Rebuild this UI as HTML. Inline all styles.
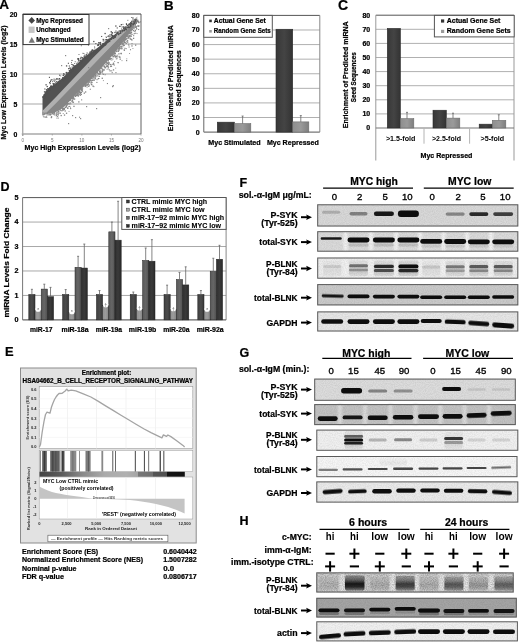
<!DOCTYPE html>
<html><head><meta charset="utf-8"><title>Figure</title>
<style>
html,body{margin:0;padding:0;background:#fff;}
body{width:520px;height:642px;overflow:hidden;}
svg{display:block;font-family:"Liberation Sans",sans-serif;filter:blur(0.3px);}
</style></head><body>
<svg width="520" height="642" viewBox="0 0 520 642">
<defs>
<linearGradient id="gdark" x1="0" x2="1" y1="0" y2="0"><stop offset="0" stop-color="#383838"/><stop offset="0.5" stop-color="#444"/><stop offset="1" stop-color="#333"/></linearGradient>
<linearGradient id="glight" x1="0" x2="1" y1="0" y2="0"><stop offset="0" stop-color="#8e8e8e"/><stop offset="0.5" stop-color="#9a9a9a"/><stop offset="1" stop-color="#7e7e7e"/></linearGradient>
<linearGradient id="gd1" x1="0" x2="1"><stop offset="0" stop-color="#404040"/><stop offset="0.5" stop-color="#4c4c4c"/><stop offset="1" stop-color="#383838"/></linearGradient>
<linearGradient id="gd2" x1="0" x2="1"><stop offset="0" stop-color="#909090"/><stop offset="0.5" stop-color="#9c9c9c"/><stop offset="1" stop-color="#848484"/></linearGradient>
<linearGradient id="gd3" x1="0" x2="1"><stop offset="0" stop-color="#585858"/><stop offset="0.5" stop-color="#666"/><stop offset="1" stop-color="#505050"/></linearGradient>
<linearGradient id="gd4" x1="0" x2="1"><stop offset="0" stop-color="#303030"/><stop offset="0.5" stop-color="#3a3a3a"/><stop offset="1" stop-color="#2a2a2a"/></linearGradient>
<linearGradient id="gbar" x1="0" x2="1"><stop offset="0" stop-color="#444"/><stop offset="0.15" stop-color="#5a5a5a"/><stop offset="0.3" stop-color="#8a8a8a"/><stop offset="0.45" stop-color="#aaa"/><stop offset="0.6" stop-color="#b0b0b0"/><stop offset="0.68" stop-color="#a4a4a4"/><stop offset="0.681" stop-color="#777"/><stop offset="0.78" stop-color="#707070"/><stop offset="0.781" stop-color="#555"/><stop offset="0.88" stop-color="#505050"/><stop offset="0.881" stop-color="#151515"/><stop offset="1" stop-color="#111"/></linearGradient>
<linearGradient id="gsmear" x1="0" x2="0" y1="0" y2="1"><stop offset="0" stop-color="#111" stop-opacity="0.35"/><stop offset="0.3" stop-color="#111" stop-opacity="0.6"/><stop offset="0.55" stop-color="#111" stop-opacity="1"/><stop offset="0.75" stop-color="#111" stop-opacity="0.9"/><stop offset="1" stop-color="#111" stop-opacity="0.45"/></linearGradient>
<filter id="blur1" x="-20%" y="-100%" width="140%" height="300%"><feGaussianBlur stdDeviation="0.7"/></filter>
<filter id="blur2" x="-30%" y="-30%" width="160%" height="160%"><feGaussianBlur stdDeviation="1.2"/></filter>
<filter id="noise" x="0" y="0" width="100%" height="100%"><feTurbulence type="fractalNoise" baseFrequency="0.9" numOctaves="2" seed="3" result="n"/><feColorMatrix in="n" type="matrix" values="0 0 0 0 0  0 0 0 0 0  0 0 0 0 0  0 0 0 -1.6 1.1"/><feComposite in2="SourceGraphic" operator="in"/></filter>
</defs>
<rect width="520" height="642" fill="#fff"/>
<text x="-0.70" y="9.40" font-size="13.6" font-weight="bold" fill="#000" stroke="#000" stroke-width="0.22">A</text>
<text x="164.00" y="9.50" font-size="13.3" font-weight="bold" fill="#000" stroke="#000" stroke-width="0.22">B</text>
<text x="338.00" y="10.10" font-size="14" font-weight="bold" fill="#000" stroke="#000" stroke-width="0.22">C</text>
<text x="0.40" y="191.20" font-size="12.5" font-weight="bold" fill="#000" stroke="#000" stroke-width="0.22">D</text>
<text x="5.00" y="356.30" font-size="12.9" font-weight="bold" fill="#000" stroke="#000" stroke-width="0.22">E</text>
<text x="239.60" y="187.20" font-size="12.5" font-weight="bold" fill="#000" stroke="#000" stroke-width="0.22">F</text>
<text x="239.40" y="356.60" font-size="12.5" font-weight="bold" fill="#000" stroke="#000" stroke-width="0.22">G</text>
<text x="239.40" y="525.20" font-size="12.5" font-weight="bold" fill="#000" stroke="#000" stroke-width="0.22">H</text>
<line x1="22.75" y1="104.00" x2="141.00" y2="104.00" stroke="#a8a8a8" stroke-width="1.1"/>
<line x1="22.75" y1="74.00" x2="141.00" y2="74.00" stroke="#a8a8a8" stroke-width="1.1"/>
<line x1="22.75" y1="44.00" x2="141.00" y2="44.00" stroke="#a8a8a8" stroke-width="1.1"/>
<line x1="22.75" y1="14.00" x2="22.75" y2="136.00" stroke="#a0a0a0" stroke-width="1.2"/>
<line x1="21.75" y1="134.00" x2="141.00" y2="134.00" stroke="#a8a8a8" stroke-width="1.4"/>
<line x1="141.00" y1="14.00" x2="141.00" y2="134.00" stroke="#606060" stroke-width="1"/>
<line x1="22.75" y1="14.00" x2="141.00" y2="14.00" stroke="#404040" stroke-width="1"/>
<text x="17.30" y="136.80" font-size="6.9" font-weight="bold" fill="#000" text-anchor="end" stroke="#000" stroke-width="0.22">0</text>
<text x="22.75" y="141.50" font-size="4.6" font-weight="normal" fill="#777" text-anchor="middle">0</text>
<line x1="22.75" y1="134.00" x2="22.75" y2="135.50" stroke="#999" stroke-width="0.8"/>
<text x="17.30" y="106.80" font-size="6.9" font-weight="bold" fill="#000" text-anchor="end" stroke="#000" stroke-width="0.22">5</text>
<text x="52.31" y="141.50" font-size="4.6" font-weight="normal" fill="#777" text-anchor="middle">5</text>
<line x1="52.31" y1="134.00" x2="52.31" y2="135.50" stroke="#999" stroke-width="0.8"/>
<text x="17.30" y="76.80" font-size="6.9" font-weight="bold" fill="#000" text-anchor="end" stroke="#000" stroke-width="0.22">10</text>
<text x="81.88" y="141.50" font-size="4.6" font-weight="normal" fill="#777" text-anchor="middle">10</text>
<line x1="81.88" y1="134.00" x2="81.88" y2="135.50" stroke="#999" stroke-width="0.8"/>
<text x="17.30" y="46.80" font-size="6.9" font-weight="bold" fill="#000" text-anchor="end" stroke="#000" stroke-width="0.22">15</text>
<text x="111.45" y="141.50" font-size="4.6" font-weight="normal" fill="#777" text-anchor="middle">15</text>
<line x1="111.45" y1="134.00" x2="111.45" y2="135.50" stroke="#999" stroke-width="0.8"/>
<text x="17.30" y="16.80" font-size="6.9" font-weight="bold" fill="#000" text-anchor="end" stroke="#000" stroke-width="0.22">20</text>
<text x="141.01" y="141.50" font-size="4.6" font-weight="normal" fill="#777" text-anchor="middle">20</text>
<line x1="141.01" y1="134.00" x2="141.01" y2="135.50" stroke="#999" stroke-width="0.8"/>
<path d="M42.5,97.0 L45.0,92.5 L48.0,88.5 L55.0,84.0 L63.0,77.5 L67.0,74.0 L71.0,69.0 L77.4,63.5 L83.6,58.0 L89.8,53.0 L96.0,49.0 L104.0,42.8 L112.0,36.5 L120.0,30.8 L126.0,27.0 L132.0,22.8 L137.3,19.2 L137.3,19.0 L42.5,115.2 Z" fill="#525252"/>
<path d="M137.3,19.2 L135.5,23.6 L132.5,29.1 L127.0,36.7 L121.0,44.8 L114.0,53.4 L107.0,61.5 L101.0,68.6 L95.5,74.7 L90.0,80.4 L83.4,87.1 L77.0,93.6 L71.0,99.8 L66.0,105.1 L60.0,110.2 L52.0,113.5 L47.0,113.5 L42.5,112.5 L42.5,115.2 L137.3,19.0 Z" fill="#858585"/>
<path d="M42.5,110.8 L56.0,97.1 L94.0,56.8 L120.0,31.1 L137.3,16.6 L137.3,19.4 L120.0,36.9 L94.0,63.9 L56.0,103.3 L42.5,116.4 Z" fill="#b0b0b0"/>
<rect x="44.39" y="96.15" width="1.30" height="1.30" fill="#525252"/>
<rect x="42.45" y="96.42" width="1.30" height="1.30" fill="#525252"/>
<rect x="44.26" y="96.71" width="1.10" height="1.10" fill="#525252"/>
<rect x="43.89" y="97.36" width="1.10" height="1.10" fill="#525252"/>
<rect x="42.44" y="96.62" width="0.90" height="0.90" fill="#525252"/>
<rect x="43.79" y="94.00" width="0.90" height="0.90" fill="#525252"/>
<rect x="44.37" y="94.64" width="0.90" height="0.90" fill="#525252"/>
<rect x="44.32" y="96.31" width="0.90" height="0.90" fill="#525252"/>
<rect x="43.75" y="94.33" width="1.30" height="1.30" fill="#525252"/>
<rect x="42.67" y="96.03" width="1.30" height="1.30" fill="#525252"/>
<rect x="44.17" y="96.82" width="1.30" height="1.30" fill="#525252"/>
<rect x="43.94" y="97.43" width="0.90" height="0.90" fill="#525252"/>
<rect x="43.68" y="94.73" width="1.10" height="1.10" fill="#525252"/>
<rect x="44.25" y="95.84" width="0.90" height="0.90" fill="#525252"/>
<rect x="45.11" y="94.33" width="1.30" height="1.30" fill="#525252"/>
<rect x="43.33" y="95.70" width="1.10" height="1.10" fill="#525252"/>
<rect x="45.07" y="94.13" width="0.90" height="0.90" fill="#525252"/>
<rect x="43.15" y="96.67" width="1.10" height="1.10" fill="#525252"/>
<rect x="42.99" y="96.38" width="0.90" height="0.90" fill="#525252"/>
<rect x="46.15" y="93.36" width="1.30" height="1.30" fill="#525252"/>
<rect x="44.33" y="88.42" width="1.10" height="1.10" fill="#525252"/>
<rect x="46.54" y="91.53" width="1.10" height="1.10" fill="#525252"/>
<rect x="46.95" y="90.34" width="0.90" height="0.90" fill="#525252"/>
<rect x="47.98" y="88.83" width="1.30" height="1.30" fill="#525252"/>
<rect x="44.16" y="91.47" width="1.10" height="1.10" fill="#525252"/>
<rect x="48.16" y="89.73" width="1.10" height="1.10" fill="#525252"/>
<rect x="48.19" y="89.35" width="1.10" height="1.10" fill="#525252"/>
<rect x="45.69" y="90.79" width="1.10" height="1.10" fill="#525252"/>
<rect x="43.88" y="91.29" width="0.90" height="0.90" fill="#525252"/>
<rect x="47.60" y="89.84" width="1.10" height="1.10" fill="#525252"/>
<rect x="45.47" y="92.35" width="1.30" height="1.30" fill="#525252"/>
<rect x="46.85" y="92.15" width="1.10" height="1.10" fill="#525252"/>
<rect x="48.30" y="89.57" width="1.10" height="1.10" fill="#525252"/>
<rect x="47.22" y="88.00" width="1.10" height="1.10" fill="#525252"/>
<rect x="48.87" y="89.41" width="0.90" height="0.90" fill="#525252"/>
<rect x="44.84" y="91.44" width="0.90" height="0.90" fill="#525252"/>
<rect x="46.17" y="90.35" width="1.10" height="1.10" fill="#525252"/>
<rect x="46.85" y="92.12" width="1.30" height="1.30" fill="#525252"/>
<rect x="45.92" y="90.88" width="0.90" height="0.90" fill="#525252"/>
<rect x="47.08" y="89.74" width="1.30" height="1.30" fill="#525252"/>
<rect x="45.88" y="89.06" width="1.10" height="1.10" fill="#525252"/>
<rect x="53.36" y="83.00" width="1.30" height="1.30" fill="#525252"/>
<rect x="53.86" y="85.33" width="1.10" height="1.10" fill="#525252"/>
<rect x="50.84" y="86.86" width="1.10" height="1.10" fill="#525252"/>
<rect x="49.22" y="89.44" width="0.90" height="0.90" fill="#525252"/>
<rect x="51.81" y="87.65" width="1.30" height="1.30" fill="#525252"/>
<rect x="49.23" y="89.61" width="0.90" height="0.90" fill="#525252"/>
<rect x="49.08" y="81.93" width="1.30" height="1.30" fill="#525252"/>
<rect x="46.58" y="85.89" width="1.30" height="1.30" fill="#525252"/>
<rect x="50.30" y="86.29" width="1.10" height="1.10" fill="#525252"/>
<rect x="52.32" y="85.95" width="0.90" height="0.90" fill="#525252"/>
<rect x="48.89" y="76.82" width="1.10" height="1.10" fill="#525252"/>
<rect x="51.78" y="86.99" width="0.90" height="0.90" fill="#525252"/>
<rect x="49.08" y="88.61" width="1.10" height="1.10" fill="#525252"/>
<rect x="50.81" y="85.51" width="1.30" height="1.30" fill="#525252"/>
<rect x="45.44" y="84.16" width="1.30" height="1.30" fill="#525252"/>
<rect x="50.00" y="86.05" width="0.90" height="0.90" fill="#525252"/>
<rect x="53.75" y="85.78" width="1.30" height="1.30" fill="#525252"/>
<rect x="53.49" y="83.76" width="1.10" height="1.10" fill="#525252"/>
<rect x="49.65" y="83.09" width="1.10" height="1.10" fill="#525252"/>
<rect x="53.36" y="84.96" width="1.30" height="1.30" fill="#525252"/>
<rect x="50.87" y="87.90" width="0.90" height="0.90" fill="#525252"/>
<rect x="52.48" y="83.06" width="1.30" height="1.30" fill="#525252"/>
<rect x="54.22" y="85.82" width="1.10" height="1.10" fill="#525252"/>
<rect x="51.32" y="88.19" width="0.90" height="0.90" fill="#525252"/>
<rect x="53.64" y="85.11" width="0.90" height="0.90" fill="#525252"/>
<rect x="49.98" y="80.93" width="1.10" height="1.10" fill="#525252"/>
<rect x="53.00" y="83.83" width="1.10" height="1.10" fill="#525252"/>
<rect x="55.01" y="84.71" width="0.90" height="0.90" fill="#525252"/>
<rect x="48.82" y="88.21" width="1.10" height="1.10" fill="#525252"/>
<rect x="49.13" y="87.12" width="1.30" height="1.30" fill="#525252"/>
<rect x="53.97" y="84.86" width="1.30" height="1.30" fill="#525252"/>
<rect x="50.05" y="86.39" width="1.30" height="1.30" fill="#525252"/>
<rect x="49.12" y="88.40" width="1.30" height="1.30" fill="#525252"/>
<rect x="53.34" y="85.27" width="0.90" height="0.90" fill="#525252"/>
<rect x="50.70" y="86.02" width="0.90" height="0.90" fill="#525252"/>
<rect x="50.23" y="79.65" width="1.10" height="1.10" fill="#525252"/>
<rect x="50.49" y="85.24" width="0.90" height="0.90" fill="#525252"/>
<rect x="61.55" y="80.21" width="0.90" height="0.90" fill="#525252"/>
<rect x="54.99" y="83.54" width="1.10" height="1.10" fill="#525252"/>
<rect x="62.24" y="79.73" width="1.30" height="1.30" fill="#525252"/>
<rect x="62.37" y="77.04" width="1.10" height="1.10" fill="#525252"/>
<rect x="56.15" y="82.87" width="0.90" height="0.90" fill="#525252"/>
<rect x="51.22" y="79.11" width="1.30" height="1.30" fill="#525252"/>
<rect x="54.91" y="82.21" width="0.90" height="0.90" fill="#525252"/>
<rect x="56.63" y="78.92" width="0.90" height="0.90" fill="#525252"/>
<rect x="55.90" y="84.65" width="1.30" height="1.30" fill="#525252"/>
<rect x="56.71" y="82.17" width="1.10" height="1.10" fill="#525252"/>
<rect x="57.87" y="78.64" width="0.90" height="0.90" fill="#525252"/>
<rect x="62.68" y="78.58" width="1.10" height="1.10" fill="#525252"/>
<rect x="58.97" y="78.05" width="1.30" height="1.30" fill="#525252"/>
<rect x="55.91" y="78.24" width="1.30" height="1.30" fill="#525252"/>
<rect x="56.83" y="84.11" width="1.30" height="1.30" fill="#525252"/>
<rect x="55.35" y="84.13" width="0.90" height="0.90" fill="#525252"/>
<rect x="58.80" y="78.73" width="0.90" height="0.90" fill="#525252"/>
<rect x="56.50" y="83.03" width="1.30" height="1.30" fill="#525252"/>
<rect x="56.88" y="84.35" width="1.30" height="1.30" fill="#525252"/>
<rect x="59.03" y="80.49" width="0.90" height="0.90" fill="#525252"/>
<rect x="62.99" y="79.40" width="0.90" height="0.90" fill="#525252"/>
<rect x="56.17" y="80.92" width="1.30" height="1.30" fill="#525252"/>
<rect x="59.59" y="82.25" width="0.90" height="0.90" fill="#525252"/>
<rect x="58.24" y="80.74" width="1.30" height="1.30" fill="#525252"/>
<rect x="60.55" y="80.92" width="1.10" height="1.10" fill="#525252"/>
<rect x="58.57" y="81.00" width="1.10" height="1.10" fill="#525252"/>
<rect x="59.68" y="81.46" width="1.30" height="1.30" fill="#525252"/>
<rect x="59.07" y="74.68" width="1.10" height="1.10" fill="#525252"/>
<rect x="60.29" y="75.43" width="0.90" height="0.90" fill="#525252"/>
<rect x="62.52" y="79.53" width="0.90" height="0.90" fill="#525252"/>
<rect x="58.62" y="82.04" width="1.30" height="1.30" fill="#525252"/>
<rect x="57.83" y="83.55" width="1.30" height="1.30" fill="#525252"/>
<rect x="58.25" y="83.05" width="0.90" height="0.90" fill="#525252"/>
<rect x="62.09" y="77.37" width="1.10" height="1.10" fill="#525252"/>
<rect x="54.18" y="80.65" width="1.10" height="1.10" fill="#525252"/>
<rect x="53.54" y="78.61" width="1.10" height="1.10" fill="#525252"/>
<rect x="62.84" y="79.19" width="1.30" height="1.30" fill="#525252"/>
<rect x="62.42" y="79.53" width="1.10" height="1.10" fill="#525252"/>
<rect x="63.24" y="77.90" width="1.10" height="1.10" fill="#525252"/>
<rect x="57.04" y="83.31" width="1.30" height="1.30" fill="#525252"/>
<rect x="58.36" y="82.16" width="1.10" height="1.10" fill="#525252"/>
<rect x="59.51" y="82.35" width="1.10" height="1.10" fill="#525252"/>
<rect x="59.66" y="81.28" width="0.90" height="0.90" fill="#525252"/>
<rect x="53.43" y="80.23" width="0.90" height="0.90" fill="#525252"/>
<rect x="63.63" y="78.74" width="1.10" height="1.10" fill="#525252"/>
<rect x="54.91" y="79.44" width="0.90" height="0.90" fill="#525252"/>
<rect x="64.93" y="77.53" width="1.10" height="1.10" fill="#525252"/>
<rect x="65.82" y="73.86" width="1.10" height="1.10" fill="#525252"/>
<rect x="64.56" y="76.01" width="1.30" height="1.30" fill="#525252"/>
<rect x="64.59" y="74.71" width="0.90" height="0.90" fill="#525252"/>
<rect x="62.84" y="75.07" width="0.90" height="0.90" fill="#525252"/>
<rect x="65.65" y="77.09" width="0.90" height="0.90" fill="#525252"/>
<rect x="64.25" y="73.81" width="0.90" height="0.90" fill="#525252"/>
<rect x="66.12" y="76.16" width="1.10" height="1.10" fill="#525252"/>
<rect x="66.63" y="74.68" width="1.10" height="1.10" fill="#525252"/>
<rect x="67.25" y="74.33" width="1.10" height="1.10" fill="#525252"/>
<rect x="66.48" y="76.46" width="1.30" height="1.30" fill="#525252"/>
<rect x="64.84" y="77.68" width="0.90" height="0.90" fill="#525252"/>
<rect x="64.81" y="77.46" width="1.10" height="1.10" fill="#525252"/>
<rect x="65.47" y="75.25" width="0.90" height="0.90" fill="#525252"/>
<rect x="64.21" y="76.54" width="0.90" height="0.90" fill="#525252"/>
<rect x="62.78" y="75.06" width="1.10" height="1.10" fill="#525252"/>
<rect x="64.17" y="78.54" width="1.30" height="1.30" fill="#525252"/>
<rect x="65.95" y="76.43" width="1.10" height="1.10" fill="#525252"/>
<rect x="64.18" y="76.86" width="1.30" height="1.30" fill="#525252"/>
<rect x="66.51" y="74.90" width="1.10" height="1.10" fill="#525252"/>
<rect x="63.06" y="73.16" width="1.30" height="1.30" fill="#525252"/>
<rect x="64.93" y="77.23" width="0.90" height="0.90" fill="#525252"/>
<rect x="62.84" y="74.55" width="1.30" height="1.30" fill="#525252"/>
<rect x="70.91" y="71.15" width="1.10" height="1.10" fill="#525252"/>
<rect x="69.06" y="67.60" width="0.90" height="0.90" fill="#525252"/>
<rect x="66.21" y="72.79" width="1.10" height="1.10" fill="#525252"/>
<rect x="69.87" y="72.77" width="1.30" height="1.30" fill="#525252"/>
<rect x="68.10" y="67.98" width="1.30" height="1.30" fill="#525252"/>
<rect x="70.56" y="68.89" width="1.30" height="1.30" fill="#525252"/>
<rect x="68.36" y="72.69" width="0.90" height="0.90" fill="#525252"/>
<rect x="69.32" y="73.65" width="1.10" height="1.10" fill="#525252"/>
<rect x="65.92" y="65.25" width="1.30" height="1.30" fill="#525252"/>
<rect x="69.48" y="73.33" width="1.10" height="1.10" fill="#525252"/>
<rect x="68.77" y="73.63" width="1.10" height="1.10" fill="#525252"/>
<rect x="68.67" y="72.21" width="1.30" height="1.30" fill="#525252"/>
<rect x="70.38" y="71.33" width="0.90" height="0.90" fill="#525252"/>
<rect x="65.69" y="72.21" width="0.90" height="0.90" fill="#525252"/>
<rect x="69.77" y="72.94" width="0.90" height="0.90" fill="#525252"/>
<rect x="67.74" y="72.14" width="0.90" height="0.90" fill="#525252"/>
<rect x="69.30" y="71.04" width="0.90" height="0.90" fill="#525252"/>
<rect x="68.72" y="69.98" width="1.30" height="1.30" fill="#525252"/>
<rect x="69.13" y="72.51" width="1.10" height="1.10" fill="#525252"/>
<rect x="66.63" y="72.48" width="1.30" height="1.30" fill="#525252"/>
<rect x="65.84" y="71.88" width="1.30" height="1.30" fill="#525252"/>
<rect x="70.12" y="69.18" width="1.30" height="1.30" fill="#525252"/>
<rect x="69.84" y="70.53" width="1.30" height="1.30" fill="#525252"/>
<rect x="69.82" y="70.08" width="0.90" height="0.90" fill="#525252"/>
<rect x="70.05" y="69.66" width="1.30" height="1.30" fill="#525252"/>
<rect x="68.95" y="69.96" width="0.90" height="0.90" fill="#525252"/>
<rect x="68.52" y="74.52" width="1.30" height="1.30" fill="#525252"/>
<rect x="69.50" y="73.04" width="1.10" height="1.10" fill="#525252"/>
<rect x="74.20" y="65.49" width="1.30" height="1.30" fill="#525252"/>
<rect x="75.04" y="66.82" width="1.10" height="1.10" fill="#525252"/>
<rect x="69.77" y="67.53" width="1.30" height="1.30" fill="#525252"/>
<rect x="74.74" y="61.28" width="0.90" height="0.90" fill="#525252"/>
<rect x="76.16" y="66.47" width="1.30" height="1.30" fill="#525252"/>
<rect x="72.70" y="64.84" width="1.10" height="1.10" fill="#525252"/>
<rect x="71.52" y="66.57" width="0.90" height="0.90" fill="#525252"/>
<rect x="71.45" y="59.94" width="1.10" height="1.10" fill="#525252"/>
<rect x="77.34" y="65.43" width="1.30" height="1.30" fill="#525252"/>
<rect x="73.81" y="68.55" width="1.30" height="1.30" fill="#525252"/>
<rect x="76.04" y="66.54" width="0.90" height="0.90" fill="#525252"/>
<rect x="72.65" y="66.63" width="1.30" height="1.30" fill="#525252"/>
<rect x="72.79" y="67.14" width="0.90" height="0.90" fill="#525252"/>
<rect x="74.18" y="66.45" width="1.30" height="1.30" fill="#525252"/>
<rect x="72.33" y="69.26" width="1.10" height="1.10" fill="#525252"/>
<rect x="72.86" y="67.40" width="1.10" height="1.10" fill="#525252"/>
<rect x="72.93" y="65.22" width="1.30" height="1.30" fill="#525252"/>
<rect x="67.84" y="62.74" width="1.10" height="1.10" fill="#525252"/>
<rect x="71.27" y="69.09" width="1.30" height="1.30" fill="#525252"/>
<rect x="77.38" y="63.89" width="1.10" height="1.10" fill="#525252"/>
<rect x="70.96" y="63.94" width="0.90" height="0.90" fill="#525252"/>
<rect x="72.38" y="69.65" width="1.30" height="1.30" fill="#525252"/>
<rect x="71.02" y="62.24" width="0.90" height="0.90" fill="#525252"/>
<rect x="74.47" y="65.23" width="1.10" height="1.10" fill="#525252"/>
<rect x="75.98" y="63.31" width="0.90" height="0.90" fill="#525252"/>
<rect x="72.23" y="63.99" width="1.10" height="1.10" fill="#525252"/>
<rect x="72.20" y="70.07" width="1.10" height="1.10" fill="#525252"/>
<rect x="75.66" y="65.60" width="1.30" height="1.30" fill="#525252"/>
<rect x="72.34" y="68.74" width="1.10" height="1.10" fill="#525252"/>
<rect x="72.24" y="68.88" width="1.10" height="1.10" fill="#525252"/>
<rect x="74.23" y="63.04" width="0.90" height="0.90" fill="#525252"/>
<rect x="77.75" y="64.68" width="0.90" height="0.90" fill="#525252"/>
<rect x="77.32" y="64.68" width="1.10" height="1.10" fill="#525252"/>
<rect x="71.75" y="69.03" width="1.30" height="1.30" fill="#525252"/>
<rect x="68.81" y="65.46" width="1.10" height="1.10" fill="#525252"/>
<rect x="77.04" y="64.97" width="0.90" height="0.90" fill="#525252"/>
<rect x="76.90" y="65.06" width="0.90" height="0.90" fill="#525252"/>
<rect x="79.56" y="62.82" width="1.30" height="1.30" fill="#525252"/>
<rect x="78.25" y="60.52" width="1.10" height="1.10" fill="#525252"/>
<rect x="81.50" y="57.08" width="1.30" height="1.30" fill="#525252"/>
<rect x="77.90" y="59.06" width="1.30" height="1.30" fill="#525252"/>
<rect x="80.01" y="59.58" width="0.90" height="0.90" fill="#525252"/>
<rect x="83.48" y="58.69" width="1.30" height="1.30" fill="#525252"/>
<rect x="81.62" y="58.86" width="1.10" height="1.10" fill="#525252"/>
<rect x="77.93" y="58.03" width="1.30" height="1.30" fill="#525252"/>
<rect x="78.32" y="62.95" width="1.10" height="1.10" fill="#525252"/>
<rect x="79.78" y="62.66" width="1.30" height="1.30" fill="#525252"/>
<rect x="84.07" y="58.83" width="1.30" height="1.30" fill="#525252"/>
<rect x="78.98" y="62.30" width="1.30" height="1.30" fill="#525252"/>
<rect x="80.64" y="62.23" width="0.90" height="0.90" fill="#525252"/>
<rect x="77.91" y="63.14" width="1.10" height="1.10" fill="#525252"/>
<rect x="80.99" y="60.68" width="1.10" height="1.10" fill="#525252"/>
<rect x="83.77" y="58.23" width="0.90" height="0.90" fill="#525252"/>
<rect x="81.45" y="61.22" width="0.90" height="0.90" fill="#525252"/>
<rect x="80.44" y="62.66" width="0.90" height="0.90" fill="#525252"/>
<rect x="78.33" y="59.94" width="0.90" height="0.90" fill="#525252"/>
<rect x="81.94" y="57.54" width="1.10" height="1.10" fill="#525252"/>
<rect x="78.84" y="60.34" width="0.90" height="0.90" fill="#525252"/>
<rect x="80.20" y="61.94" width="0.90" height="0.90" fill="#525252"/>
<rect x="80.30" y="60.55" width="1.10" height="1.10" fill="#525252"/>
<rect x="78.22" y="62.85" width="1.30" height="1.30" fill="#525252"/>
<rect x="80.61" y="57.24" width="0.90" height="0.90" fill="#525252"/>
<rect x="79.73" y="62.74" width="1.10" height="1.10" fill="#525252"/>
<rect x="81.64" y="60.21" width="1.10" height="1.10" fill="#525252"/>
<rect x="80.71" y="56.63" width="0.90" height="0.90" fill="#525252"/>
<rect x="78.44" y="63.09" width="1.10" height="1.10" fill="#525252"/>
<rect x="83.48" y="58.26" width="0.90" height="0.90" fill="#525252"/>
<rect x="77.07" y="58.24" width="1.30" height="1.30" fill="#525252"/>
<rect x="78.53" y="54.09" width="0.90" height="0.90" fill="#525252"/>
<rect x="82.95" y="59.97" width="0.90" height="0.90" fill="#525252"/>
<rect x="80.03" y="59.94" width="1.30" height="1.30" fill="#525252"/>
<rect x="80.07" y="57.76" width="1.10" height="1.10" fill="#525252"/>
<rect x="76.80" y="61.76" width="0.90" height="0.90" fill="#525252"/>
<rect x="82.93" y="59.96" width="0.90" height="0.90" fill="#525252"/>
<rect x="88.11" y="55.40" width="0.90" height="0.90" fill="#525252"/>
<rect x="87.45" y="54.83" width="1.10" height="1.10" fill="#525252"/>
<rect x="88.77" y="55.55" width="0.90" height="0.90" fill="#525252"/>
<rect x="82.50" y="52.82" width="0.90" height="0.90" fill="#525252"/>
<rect x="86.66" y="56.87" width="1.30" height="1.30" fill="#525252"/>
<rect x="83.55" y="57.92" width="1.10" height="1.10" fill="#525252"/>
<rect x="85.81" y="57.20" width="0.90" height="0.90" fill="#525252"/>
<rect x="87.18" y="56.41" width="0.90" height="0.90" fill="#525252"/>
<rect x="84.05" y="58.19" width="1.30" height="1.30" fill="#525252"/>
<rect x="86.48" y="57.67" width="1.10" height="1.10" fill="#525252"/>
<rect x="88.65" y="53.04" width="0.90" height="0.90" fill="#525252"/>
<rect x="84.68" y="56.07" width="1.10" height="1.10" fill="#525252"/>
<rect x="85.96" y="58.05" width="1.10" height="1.10" fill="#525252"/>
<rect x="88.44" y="54.88" width="1.10" height="1.10" fill="#525252"/>
<rect x="83.63" y="55.52" width="1.30" height="1.30" fill="#525252"/>
<rect x="89.75" y="54.90" width="1.10" height="1.10" fill="#525252"/>
<rect x="90.10" y="53.76" width="0.90" height="0.90" fill="#525252"/>
<rect x="85.69" y="57.66" width="1.10" height="1.10" fill="#525252"/>
<rect x="83.93" y="57.03" width="1.30" height="1.30" fill="#525252"/>
<rect x="85.42" y="57.88" width="1.10" height="1.10" fill="#525252"/>
<rect x="90.17" y="54.59" width="1.30" height="1.30" fill="#525252"/>
<rect x="84.82" y="57.66" width="0.90" height="0.90" fill="#525252"/>
<rect x="83.50" y="57.57" width="1.10" height="1.10" fill="#525252"/>
<rect x="84.84" y="58.88" width="1.10" height="1.10" fill="#525252"/>
<rect x="85.67" y="54.87" width="1.10" height="1.10" fill="#525252"/>
<rect x="80.86" y="45.30" width="0.90" height="0.90" fill="#525252"/>
<rect x="86.36" y="57.25" width="1.30" height="1.30" fill="#525252"/>
<rect x="89.19" y="55.46" width="1.30" height="1.30" fill="#525252"/>
<rect x="86.58" y="52.49" width="1.10" height="1.10" fill="#525252"/>
<rect x="87.19" y="56.84" width="0.90" height="0.90" fill="#525252"/>
<rect x="85.74" y="57.10" width="0.90" height="0.90" fill="#525252"/>
<rect x="86.12" y="54.00" width="1.10" height="1.10" fill="#525252"/>
<rect x="84.44" y="54.51" width="1.10" height="1.10" fill="#525252"/>
<rect x="83.46" y="56.71" width="0.90" height="0.90" fill="#525252"/>
<rect x="83.44" y="53.07" width="0.90" height="0.90" fill="#525252"/>
<rect x="91.08" y="50.58" width="1.10" height="1.10" fill="#525252"/>
<rect x="90.22" y="53.25" width="1.30" height="1.30" fill="#525252"/>
<rect x="95.37" y="51.20" width="0.90" height="0.90" fill="#525252"/>
<rect x="91.60" y="49.48" width="0.90" height="0.90" fill="#525252"/>
<rect x="90.62" y="50.77" width="1.30" height="1.30" fill="#525252"/>
<rect x="92.39" y="52.40" width="1.30" height="1.30" fill="#525252"/>
<rect x="89.30" y="51.63" width="1.30" height="1.30" fill="#525252"/>
<rect x="92.25" y="52.48" width="0.90" height="0.90" fill="#525252"/>
<rect x="94.06" y="49.78" width="1.30" height="1.30" fill="#525252"/>
<rect x="96.46" y="50.43" width="0.90" height="0.90" fill="#525252"/>
<rect x="89.83" y="51.59" width="1.10" height="1.10" fill="#525252"/>
<rect x="96.00" y="49.63" width="1.10" height="1.10" fill="#525252"/>
<rect x="94.32" y="47.57" width="0.90" height="0.90" fill="#525252"/>
<rect x="96.18" y="50.26" width="1.30" height="1.30" fill="#525252"/>
<rect x="91.14" y="50.95" width="0.90" height="0.90" fill="#525252"/>
<rect x="93.96" y="51.18" width="1.10" height="1.10" fill="#525252"/>
<rect x="91.70" y="49.67" width="1.30" height="1.30" fill="#525252"/>
<rect x="90.90" y="53.62" width="0.90" height="0.90" fill="#525252"/>
<rect x="92.12" y="53.23" width="0.90" height="0.90" fill="#525252"/>
<rect x="92.72" y="50.96" width="0.90" height="0.90" fill="#525252"/>
<rect x="94.18" y="46.45" width="0.90" height="0.90" fill="#525252"/>
<rect x="92.20" y="53.12" width="0.90" height="0.90" fill="#525252"/>
<rect x="87.96" y="44.42" width="1.10" height="1.10" fill="#525252"/>
<rect x="91.57" y="53.39" width="1.10" height="1.10" fill="#525252"/>
<rect x="93.18" y="49.79" width="1.30" height="1.30" fill="#525252"/>
<rect x="92.23" y="49.44" width="0.90" height="0.90" fill="#525252"/>
<rect x="95.09" y="50.58" width="1.10" height="1.10" fill="#525252"/>
<rect x="93.63" y="51.21" width="1.30" height="1.30" fill="#525252"/>
<rect x="91.59" y="52.23" width="0.90" height="0.90" fill="#525252"/>
<rect x="91.99" y="53.06" width="1.30" height="1.30" fill="#525252"/>
<rect x="91.75" y="53.47" width="1.10" height="1.10" fill="#525252"/>
<rect x="95.98" y="49.07" width="0.90" height="0.90" fill="#525252"/>
<rect x="94.57" y="51.55" width="1.10" height="1.10" fill="#525252"/>
<rect x="104.76" y="43.93" width="1.10" height="1.10" fill="#525252"/>
<rect x="103.69" y="44.33" width="1.10" height="1.10" fill="#525252"/>
<rect x="104.24" y="44.52" width="1.10" height="1.10" fill="#525252"/>
<rect x="98.77" y="48.73" width="1.30" height="1.30" fill="#525252"/>
<rect x="103.58" y="42.71" width="0.90" height="0.90" fill="#525252"/>
<rect x="97.25" y="44.46" width="1.10" height="1.10" fill="#525252"/>
<rect x="99.79" y="43.93" width="1.30" height="1.30" fill="#525252"/>
<rect x="104.40" y="44.21" width="1.30" height="1.30" fill="#525252"/>
<rect x="102.08" y="45.12" width="0.90" height="0.90" fill="#525252"/>
<rect x="99.72" y="47.71" width="0.90" height="0.90" fill="#525252"/>
<rect x="104.93" y="44.00" width="1.30" height="1.30" fill="#525252"/>
<rect x="101.89" y="45.83" width="0.90" height="0.90" fill="#525252"/>
<rect x="102.82" y="44.27" width="1.10" height="1.10" fill="#525252"/>
<rect x="97.96" y="48.47" width="0.90" height="0.90" fill="#525252"/>
<rect x="96.31" y="48.88" width="1.10" height="1.10" fill="#525252"/>
<rect x="97.34" y="49.69" width="1.10" height="1.10" fill="#525252"/>
<rect x="102.07" y="45.86" width="1.30" height="1.30" fill="#525252"/>
<rect x="97.47" y="49.39" width="1.30" height="1.30" fill="#525252"/>
<rect x="93.16" y="40.86" width="1.30" height="1.30" fill="#525252"/>
<rect x="95.31" y="43.03" width="1.10" height="1.10" fill="#525252"/>
<rect x="100.04" y="41.90" width="1.10" height="1.10" fill="#525252"/>
<rect x="97.62" y="44.21" width="1.10" height="1.10" fill="#525252"/>
<rect x="101.47" y="45.41" width="1.10" height="1.10" fill="#525252"/>
<rect x="98.60" y="48.99" width="0.90" height="0.90" fill="#525252"/>
<rect x="98.06" y="44.65" width="1.10" height="1.10" fill="#525252"/>
<rect x="100.99" y="45.89" width="0.90" height="0.90" fill="#525252"/>
<rect x="97.95" y="49.37" width="0.90" height="0.90" fill="#525252"/>
<rect x="98.86" y="42.11" width="0.90" height="0.90" fill="#525252"/>
<rect x="98.03" y="42.16" width="1.30" height="1.30" fill="#525252"/>
<rect x="100.80" y="46.86" width="1.10" height="1.10" fill="#525252"/>
<rect x="98.02" y="48.93" width="0.90" height="0.90" fill="#525252"/>
<rect x="96.94" y="48.42" width="0.90" height="0.90" fill="#525252"/>
<rect x="96.95" y="45.24" width="0.90" height="0.90" fill="#525252"/>
<rect x="103.90" y="43.07" width="0.90" height="0.90" fill="#525252"/>
<rect x="100.48" y="44.74" width="0.90" height="0.90" fill="#525252"/>
<rect x="102.91" y="42.97" width="0.90" height="0.90" fill="#525252"/>
<rect x="99.49" y="42.92" width="1.30" height="1.30" fill="#525252"/>
<rect x="97.69" y="44.50" width="1.10" height="1.10" fill="#525252"/>
<rect x="98.11" y="48.70" width="1.10" height="1.10" fill="#525252"/>
<rect x="104.26" y="44.15" width="1.10" height="1.10" fill="#525252"/>
<rect x="97.58" y="49.01" width="1.30" height="1.30" fill="#525252"/>
<rect x="103.22" y="44.84" width="1.30" height="1.30" fill="#525252"/>
<rect x="102.22" y="43.10" width="1.30" height="1.30" fill="#525252"/>
<rect x="103.52" y="44.85" width="1.30" height="1.30" fill="#525252"/>
<rect x="98.08" y="44.15" width="1.10" height="1.10" fill="#525252"/>
<rect x="109.68" y="39.33" width="0.90" height="0.90" fill="#525252"/>
<rect x="106.93" y="39.52" width="1.10" height="1.10" fill="#525252"/>
<rect x="108.75" y="40.54" width="0.90" height="0.90" fill="#525252"/>
<rect x="109.03" y="39.00" width="0.90" height="0.90" fill="#525252"/>
<rect x="107.25" y="39.58" width="1.10" height="1.10" fill="#525252"/>
<rect x="109.42" y="35.91" width="1.10" height="1.10" fill="#525252"/>
<rect x="105.66" y="43.14" width="1.10" height="1.10" fill="#525252"/>
<rect x="105.71" y="38.95" width="1.30" height="1.30" fill="#525252"/>
<rect x="109.01" y="40.77" width="1.30" height="1.30" fill="#525252"/>
<rect x="102.56" y="38.82" width="1.10" height="1.10" fill="#525252"/>
<rect x="110.24" y="37.92" width="0.90" height="0.90" fill="#525252"/>
<rect x="107.94" y="35.43" width="1.30" height="1.30" fill="#525252"/>
<rect x="112.40" y="37.81" width="0.90" height="0.90" fill="#525252"/>
<rect x="111.17" y="35.50" width="0.90" height="0.90" fill="#525252"/>
<rect x="101.09" y="35.92" width="1.10" height="1.10" fill="#525252"/>
<rect x="105.03" y="39.36" width="0.90" height="0.90" fill="#525252"/>
<rect x="108.74" y="37.53" width="0.90" height="0.90" fill="#525252"/>
<rect x="104.93" y="42.90" width="1.10" height="1.10" fill="#525252"/>
<rect x="103.17" y="39.14" width="1.10" height="1.10" fill="#525252"/>
<rect x="111.40" y="37.30" width="1.10" height="1.10" fill="#525252"/>
<rect x="105.57" y="36.53" width="0.90" height="0.90" fill="#525252"/>
<rect x="108.42" y="38.67" width="0.90" height="0.90" fill="#525252"/>
<rect x="107.49" y="41.98" width="0.90" height="0.90" fill="#525252"/>
<rect x="106.84" y="39.77" width="1.10" height="1.10" fill="#525252"/>
<rect x="107.35" y="35.87" width="0.90" height="0.90" fill="#525252"/>
<rect x="110.91" y="38.54" width="1.30" height="1.30" fill="#525252"/>
<rect x="102.72" y="40.37" width="1.10" height="1.10" fill="#525252"/>
<rect x="108.25" y="39.06" width="0.90" height="0.90" fill="#525252"/>
<rect x="105.96" y="41.14" width="1.10" height="1.10" fill="#525252"/>
<rect x="110.26" y="38.61" width="1.10" height="1.10" fill="#525252"/>
<rect x="111.74" y="36.33" width="1.10" height="1.10" fill="#525252"/>
<rect x="107.52" y="41.83" width="0.90" height="0.90" fill="#525252"/>
<rect x="104.55" y="40.59" width="0.90" height="0.90" fill="#525252"/>
<rect x="106.37" y="40.94" width="1.10" height="1.10" fill="#525252"/>
<rect x="104.47" y="32.88" width="1.30" height="1.30" fill="#525252"/>
<rect x="109.34" y="34.30" width="1.30" height="1.30" fill="#525252"/>
<rect x="104.96" y="43.99" width="0.90" height="0.90" fill="#525252"/>
<rect x="105.98" y="40.53" width="1.10" height="1.10" fill="#525252"/>
<rect x="106.02" y="36.92" width="0.90" height="0.90" fill="#525252"/>
<rect x="107.61" y="39.34" width="0.90" height="0.90" fill="#525252"/>
<rect x="105.16" y="43.91" width="1.10" height="1.10" fill="#525252"/>
<rect x="106.41" y="40.86" width="1.30" height="1.30" fill="#525252"/>
<rect x="105.59" y="41.13" width="1.30" height="1.30" fill="#525252"/>
<rect x="105.44" y="42.43" width="1.10" height="1.10" fill="#525252"/>
<rect x="106.24" y="43.03" width="0.90" height="0.90" fill="#525252"/>
<rect x="117.82" y="32.70" width="0.90" height="0.90" fill="#525252"/>
<rect x="115.42" y="30.49" width="1.10" height="1.10" fill="#525252"/>
<rect x="115.75" y="34.96" width="0.90" height="0.90" fill="#525252"/>
<rect x="111.18" y="34.40" width="1.10" height="1.10" fill="#525252"/>
<rect x="116.58" y="32.87" width="1.30" height="1.30" fill="#525252"/>
<rect x="118.74" y="30.09" width="0.90" height="0.90" fill="#525252"/>
<rect x="114.25" y="36.86" width="0.90" height="0.90" fill="#525252"/>
<rect x="116.52" y="33.84" width="0.90" height="0.90" fill="#525252"/>
<rect x="111.10" y="32.55" width="0.90" height="0.90" fill="#525252"/>
<rect x="112.01" y="36.30" width="0.90" height="0.90" fill="#525252"/>
<rect x="113.78" y="36.59" width="1.30" height="1.30" fill="#525252"/>
<rect x="116.74" y="32.27" width="1.10" height="1.10" fill="#525252"/>
<rect x="119.19" y="32.82" width="1.10" height="1.10" fill="#525252"/>
<rect x="112.18" y="35.68" width="1.30" height="1.30" fill="#525252"/>
<rect x="117.59" y="31.09" width="0.90" height="0.90" fill="#525252"/>
<rect x="115.20" y="34.64" width="1.10" height="1.10" fill="#525252"/>
<rect x="112.21" y="35.43" width="0.90" height="0.90" fill="#525252"/>
<rect x="114.59" y="36.32" width="0.90" height="0.90" fill="#525252"/>
<rect x="117.91" y="33.90" width="1.30" height="1.30" fill="#525252"/>
<rect x="116.68" y="27.40" width="1.10" height="1.10" fill="#525252"/>
<rect x="118.23" y="33.19" width="1.30" height="1.30" fill="#525252"/>
<rect x="116.88" y="31.86" width="1.30" height="1.30" fill="#525252"/>
<rect x="120.26" y="31.64" width="0.90" height="0.90" fill="#525252"/>
<rect x="112.71" y="36.05" width="0.90" height="0.90" fill="#525252"/>
<rect x="114.67" y="35.84" width="1.30" height="1.30" fill="#525252"/>
<rect x="114.33" y="36.34" width="1.10" height="1.10" fill="#525252"/>
<rect x="113.84" y="35.83" width="1.30" height="1.30" fill="#525252"/>
<rect x="111.80" y="32.17" width="1.30" height="1.30" fill="#525252"/>
<rect x="115.20" y="25.38" width="1.30" height="1.30" fill="#525252"/>
<rect x="114.35" y="31.85" width="1.30" height="1.30" fill="#525252"/>
<rect x="112.95" y="37.72" width="1.30" height="1.30" fill="#525252"/>
<rect x="112.04" y="32.60" width="0.90" height="0.90" fill="#525252"/>
<rect x="114.94" y="33.99" width="1.30" height="1.30" fill="#525252"/>
<rect x="120.02" y="32.33" width="0.90" height="0.90" fill="#525252"/>
<rect x="112.58" y="35.42" width="0.90" height="0.90" fill="#525252"/>
<rect x="115.49" y="35.56" width="0.90" height="0.90" fill="#525252"/>
<rect x="112.99" y="37.36" width="1.30" height="1.30" fill="#525252"/>
<rect x="116.48" y="32.05" width="1.30" height="1.30" fill="#525252"/>
<rect x="110.82" y="34.06" width="1.10" height="1.10" fill="#525252"/>
<rect x="110.58" y="31.13" width="1.30" height="1.30" fill="#525252"/>
<rect x="119.97" y="32.60" width="1.30" height="1.30" fill="#525252"/>
<rect x="120.34" y="32.22" width="0.90" height="0.90" fill="#525252"/>
<rect x="114.51" y="36.58" width="1.30" height="1.30" fill="#525252"/>
<rect x="111.85" y="34.81" width="1.30" height="1.30" fill="#525252"/>
<rect x="122.46" y="30.86" width="0.90" height="0.90" fill="#525252"/>
<rect x="124.38" y="27.21" width="1.10" height="1.10" fill="#525252"/>
<rect x="122.12" y="29.91" width="0.90" height="0.90" fill="#525252"/>
<rect x="119.83" y="25.87" width="0.90" height="0.90" fill="#525252"/>
<rect x="124.61" y="28.58" width="1.10" height="1.10" fill="#525252"/>
<rect x="124.39" y="27.52" width="1.10" height="1.10" fill="#525252"/>
<rect x="124.83" y="27.13" width="0.90" height="0.90" fill="#525252"/>
<rect x="125.55" y="29.09" width="1.30" height="1.30" fill="#525252"/>
<rect x="124.99" y="28.42" width="1.30" height="1.30" fill="#525252"/>
<rect x="120.16" y="30.42" width="1.30" height="1.30" fill="#525252"/>
<rect x="125.92" y="28.70" width="1.10" height="1.10" fill="#525252"/>
<rect x="121.88" y="31.50" width="0.90" height="0.90" fill="#525252"/>
<rect x="120.95" y="28.48" width="0.90" height="0.90" fill="#525252"/>
<rect x="120.09" y="30.88" width="1.10" height="1.10" fill="#525252"/>
<rect x="122.97" y="26.27" width="1.10" height="1.10" fill="#525252"/>
<rect x="120.70" y="24.04" width="1.30" height="1.30" fill="#525252"/>
<rect x="119.03" y="25.81" width="1.10" height="1.10" fill="#525252"/>
<rect x="122.47" y="23.88" width="0.90" height="0.90" fill="#525252"/>
<rect x="123.71" y="30.04" width="1.30" height="1.30" fill="#525252"/>
<rect x="124.66" y="27.99" width="1.30" height="1.30" fill="#525252"/>
<rect x="124.09" y="29.81" width="1.10" height="1.10" fill="#525252"/>
<rect x="122.39" y="29.85" width="1.10" height="1.10" fill="#525252"/>
<rect x="124.60" y="26.22" width="1.10" height="1.10" fill="#525252"/>
<rect x="126.16" y="28.73" width="0.90" height="0.90" fill="#525252"/>
<rect x="122.02" y="29.96" width="1.30" height="1.30" fill="#525252"/>
<rect x="123.30" y="29.36" width="1.30" height="1.30" fill="#525252"/>
<rect x="121.53" y="30.12" width="1.30" height="1.30" fill="#525252"/>
<rect x="123.04" y="27.72" width="1.30" height="1.30" fill="#525252"/>
<rect x="124.23" y="28.90" width="1.10" height="1.10" fill="#525252"/>
<rect x="121.60" y="26.41" width="1.10" height="1.10" fill="#525252"/>
<rect x="123.23" y="27.12" width="0.90" height="0.90" fill="#525252"/>
<rect x="128.22" y="24.26" width="1.10" height="1.10" fill="#525252"/>
<rect x="130.22" y="25.64" width="1.10" height="1.10" fill="#525252"/>
<rect x="129.27" y="23.46" width="1.30" height="1.30" fill="#525252"/>
<rect x="127.61" y="26.86" width="1.30" height="1.30" fill="#525252"/>
<rect x="130.66" y="23.11" width="1.30" height="1.30" fill="#525252"/>
<rect x="127.49" y="27.14" width="1.10" height="1.10" fill="#525252"/>
<rect x="129.99" y="25.01" width="0.90" height="0.90" fill="#525252"/>
<rect x="128.62" y="26.55" width="1.30" height="1.30" fill="#525252"/>
<rect x="132.66" y="23.81" width="1.30" height="1.30" fill="#525252"/>
<rect x="126.92" y="27.01" width="0.90" height="0.90" fill="#525252"/>
<rect x="130.02" y="22.59" width="1.10" height="1.10" fill="#525252"/>
<rect x="128.41" y="26.95" width="0.90" height="0.90" fill="#525252"/>
<rect x="125.87" y="23.23" width="1.10" height="1.10" fill="#525252"/>
<rect x="126.48" y="27.25" width="1.10" height="1.10" fill="#525252"/>
<rect x="130.20" y="24.15" width="1.30" height="1.30" fill="#525252"/>
<rect x="128.67" y="27.03" width="1.10" height="1.10" fill="#525252"/>
<rect x="129.89" y="24.84" width="1.30" height="1.30" fill="#525252"/>
<rect x="125.95" y="23.84" width="1.30" height="1.30" fill="#525252"/>
<rect x="128.62" y="23.41" width="1.10" height="1.10" fill="#525252"/>
<rect x="130.60" y="22.77" width="1.30" height="1.30" fill="#525252"/>
<rect x="130.32" y="21.93" width="1.30" height="1.30" fill="#525252"/>
<rect x="130.09" y="25.39" width="0.90" height="0.90" fill="#525252"/>
<rect x="130.00" y="24.53" width="1.10" height="1.10" fill="#525252"/>
<rect x="126.95" y="25.05" width="1.10" height="1.10" fill="#525252"/>
<rect x="127.73" y="26.37" width="1.30" height="1.30" fill="#525252"/>
<rect x="130.33" y="25.15" width="1.10" height="1.10" fill="#525252"/>
<rect x="129.79" y="26.25" width="1.10" height="1.10" fill="#525252"/>
<rect x="128.66" y="24.18" width="0.90" height="0.90" fill="#525252"/>
<rect x="131.78" y="23.84" width="0.90" height="0.90" fill="#525252"/>
<rect x="128.40" y="25.47" width="0.90" height="0.90" fill="#525252"/>
<rect x="126.16" y="26.74" width="0.90" height="0.90" fill="#525252"/>
<rect x="127.40" y="19.85" width="0.90" height="0.90" fill="#525252"/>
<rect x="135.52" y="22.06" width="1.30" height="1.30" fill="#525252"/>
<rect x="135.04" y="22.06" width="1.10" height="1.10" fill="#525252"/>
<rect x="134.35" y="20.42" width="1.10" height="1.10" fill="#525252"/>
<rect x="135.01" y="21.28" width="1.10" height="1.10" fill="#525252"/>
<rect x="132.59" y="21.27" width="1.10" height="1.10" fill="#525252"/>
<rect x="132.29" y="17.36" width="1.30" height="1.30" fill="#525252"/>
<rect x="137.57" y="19.78" width="0.90" height="0.90" fill="#525252"/>
<rect x="133.64" y="22.34" width="0.90" height="0.90" fill="#525252"/>
<rect x="132.30" y="23.09" width="1.10" height="1.10" fill="#525252"/>
<rect x="134.84" y="19.82" width="1.30" height="1.30" fill="#525252"/>
<rect x="133.99" y="22.71" width="1.30" height="1.30" fill="#525252"/>
<rect x="131.23" y="17.09" width="0.90" height="0.90" fill="#525252"/>
<rect x="135.13" y="22.13" width="0.90" height="0.90" fill="#525252"/>
<rect x="135.95" y="19.38" width="1.10" height="1.10" fill="#525252"/>
<rect x="134.73" y="19.49" width="0.90" height="0.90" fill="#525252"/>
<rect x="133.51" y="21.00" width="1.10" height="1.10" fill="#525252"/>
<rect x="134.95" y="21.80" width="1.30" height="1.30" fill="#525252"/>
<rect x="134.47" y="19.03" width="1.10" height="1.10" fill="#525252"/>
<rect x="132.43" y="19.39" width="1.10" height="1.10" fill="#525252"/>
<rect x="135.19" y="19.47" width="1.10" height="1.10" fill="#525252"/>
<rect x="135.68" y="20.48" width="1.30" height="1.30" fill="#525252"/>
<rect x="136.59" y="20.44" width="1.30" height="1.30" fill="#525252"/>
<rect x="133.69" y="21.85" width="1.10" height="1.10" fill="#525252"/>
<rect x="136.09" y="21.72" width="1.10" height="1.10" fill="#525252"/>
<rect x="133.26" y="22.92" width="1.10" height="1.10" fill="#525252"/>
<rect x="131.03" y="20.72" width="1.10" height="1.10" fill="#525252"/>
<rect x="136.87" y="21.03" width="1.10" height="1.10" fill="#525252"/>
<rect x="135.46" y="21.68" width="0.90" height="0.90" fill="#858585"/>
<rect x="136.40" y="19.88" width="1.10" height="1.10" fill="#858585"/>
<rect x="136.43" y="20.10" width="0.90" height="0.90" fill="#858585"/>
<rect x="135.63" y="22.89" width="1.10" height="1.10" fill="#858585"/>
<rect x="136.43" y="20.60" width="1.10" height="1.10" fill="#858585"/>
<rect x="135.68" y="22.59" width="1.30" height="1.30" fill="#858585"/>
<rect x="139.70" y="21.16" width="1.30" height="1.30" fill="#858585"/>
<rect x="135.72" y="21.98" width="0.90" height="0.90" fill="#858585"/>
<rect x="136.87" y="20.36" width="0.90" height="0.90" fill="#858585"/>
<rect x="138.12" y="21.94" width="1.10" height="1.10" fill="#858585"/>
<rect x="136.18" y="21.12" width="1.10" height="1.10" fill="#858585"/>
<rect x="136.65" y="20.17" width="1.30" height="1.30" fill="#858585"/>
<rect x="135.03" y="22.69" width="1.10" height="1.10" fill="#858585"/>
<rect x="138.17" y="21.93" width="1.30" height="1.30" fill="#858585"/>
<rect x="137.88" y="20.93" width="1.10" height="1.10" fill="#858585"/>
<rect x="137.42" y="25.17" width="1.30" height="1.30" fill="#858585"/>
<rect x="132.92" y="26.83" width="0.90" height="0.90" fill="#858585"/>
<rect x="135.13" y="27.05" width="0.90" height="0.90" fill="#858585"/>
<rect x="138.26" y="25.33" width="1.30" height="1.30" fill="#858585"/>
<rect x="134.69" y="24.07" width="1.30" height="1.30" fill="#858585"/>
<rect x="135.51" y="26.22" width="1.30" height="1.30" fill="#858585"/>
<rect x="135.12" y="25.42" width="1.10" height="1.10" fill="#858585"/>
<rect x="138.07" y="28.95" width="1.10" height="1.10" fill="#858585"/>
<rect x="135.65" y="26.22" width="1.10" height="1.10" fill="#858585"/>
<rect x="134.18" y="26.49" width="1.30" height="1.30" fill="#858585"/>
<rect x="134.40" y="25.47" width="1.10" height="1.10" fill="#858585"/>
<rect x="133.55" y="28.21" width="1.10" height="1.10" fill="#858585"/>
<rect x="133.04" y="27.37" width="1.30" height="1.30" fill="#858585"/>
<rect x="135.87" y="26.65" width="1.10" height="1.10" fill="#858585"/>
<rect x="133.30" y="26.31" width="1.10" height="1.10" fill="#858585"/>
<rect x="134.60" y="23.88" width="1.10" height="1.10" fill="#858585"/>
<rect x="135.99" y="28.22" width="1.30" height="1.30" fill="#858585"/>
<rect x="134.73" y="29.70" width="1.30" height="1.30" fill="#858585"/>
<rect x="137.51" y="25.73" width="1.30" height="1.30" fill="#858585"/>
<rect x="136.22" y="28.26" width="0.90" height="0.90" fill="#858585"/>
<rect x="134.24" y="30.85" width="1.30" height="1.30" fill="#858585"/>
<rect x="127.93" y="34.65" width="0.90" height="0.90" fill="#858585"/>
<rect x="128.49" y="36.28" width="0.90" height="0.90" fill="#858585"/>
<rect x="129.59" y="37.60" width="1.10" height="1.10" fill="#858585"/>
<rect x="127.44" y="35.56" width="1.10" height="1.10" fill="#858585"/>
<rect x="129.53" y="33.49" width="1.10" height="1.10" fill="#858585"/>
<rect x="130.93" y="30.13" width="0.90" height="0.90" fill="#858585"/>
<rect x="132.14" y="33.86" width="0.90" height="0.90" fill="#858585"/>
<rect x="131.03" y="33.83" width="0.90" height="0.90" fill="#858585"/>
<rect x="129.01" y="35.56" width="1.30" height="1.30" fill="#858585"/>
<rect x="128.33" y="36.74" width="0.90" height="0.90" fill="#858585"/>
<rect x="130.45" y="35.51" width="1.30" height="1.30" fill="#858585"/>
<rect x="128.13" y="37.31" width="1.10" height="1.10" fill="#858585"/>
<rect x="129.06" y="32.99" width="1.10" height="1.10" fill="#858585"/>
<rect x="131.11" y="30.58" width="0.90" height="0.90" fill="#858585"/>
<rect x="129.53" y="31.92" width="1.30" height="1.30" fill="#858585"/>
<rect x="136.64" y="33.16" width="0.90" height="0.90" fill="#858585"/>
<rect x="130.09" y="32.85" width="1.30" height="1.30" fill="#858585"/>
<rect x="133.95" y="32.99" width="0.90" height="0.90" fill="#858585"/>
<rect x="127.96" y="36.52" width="1.30" height="1.30" fill="#858585"/>
<rect x="132.94" y="37.71" width="1.30" height="1.30" fill="#858585"/>
<rect x="128.57" y="35.07" width="1.30" height="1.30" fill="#858585"/>
<rect x="129.55" y="35.20" width="1.10" height="1.10" fill="#858585"/>
<rect x="126.97" y="35.69" width="0.90" height="0.90" fill="#858585"/>
<rect x="131.83" y="28.78" width="1.30" height="1.30" fill="#858585"/>
<rect x="130.57" y="35.68" width="1.10" height="1.10" fill="#858585"/>
<rect x="133.53" y="33.48" width="0.90" height="0.90" fill="#858585"/>
<rect x="131.25" y="39.31" width="1.30" height="1.30" fill="#858585"/>
<rect x="132.71" y="29.98" width="1.30" height="1.30" fill="#858585"/>
<rect x="129.49" y="35.37" width="0.90" height="0.90" fill="#858585"/>
<rect x="135.19" y="32.76" width="1.10" height="1.10" fill="#858585"/>
<rect x="127.07" y="36.23" width="1.10" height="1.10" fill="#858585"/>
<rect x="133.13" y="35.11" width="1.10" height="1.10" fill="#858585"/>
<rect x="130.63" y="38.71" width="1.30" height="1.30" fill="#858585"/>
<rect x="130.87" y="31.81" width="1.30" height="1.30" fill="#858585"/>
<rect x="129.64" y="38.33" width="1.30" height="1.30" fill="#858585"/>
<rect x="126.76" y="40.70" width="0.90" height="0.90" fill="#858585"/>
<rect x="123.73" y="44.72" width="1.10" height="1.10" fill="#858585"/>
<rect x="132.48" y="48.11" width="0.90" height="0.90" fill="#858585"/>
<rect x="127.06" y="41.49" width="1.30" height="1.30" fill="#858585"/>
<rect x="122.42" y="42.99" width="1.10" height="1.10" fill="#858585"/>
<rect x="124.66" y="38.53" width="1.10" height="1.10" fill="#858585"/>
<rect x="125.19" y="38.73" width="0.90" height="0.90" fill="#858585"/>
<rect x="125.02" y="38.86" width="1.30" height="1.30" fill="#858585"/>
<rect x="134.99" y="44.49" width="1.30" height="1.30" fill="#858585"/>
<rect x="128.55" y="46.45" width="1.10" height="1.10" fill="#858585"/>
<rect x="125.15" y="42.04" width="1.10" height="1.10" fill="#858585"/>
<rect x="122.15" y="43.12" width="1.30" height="1.30" fill="#858585"/>
<rect x="121.45" y="44.28" width="1.30" height="1.30" fill="#858585"/>
<rect x="127.31" y="37.66" width="1.30" height="1.30" fill="#858585"/>
<rect x="125.87" y="38.47" width="0.90" height="0.90" fill="#858585"/>
<rect x="123.19" y="43.82" width="0.90" height="0.90" fill="#858585"/>
<rect x="124.27" y="41.41" width="0.90" height="0.90" fill="#858585"/>
<rect x="127.19" y="39.78" width="1.10" height="1.10" fill="#858585"/>
<rect x="122.94" y="44.81" width="1.10" height="1.10" fill="#858585"/>
<rect x="123.90" y="40.76" width="0.90" height="0.90" fill="#858585"/>
<rect x="125.72" y="38.17" width="1.30" height="1.30" fill="#858585"/>
<rect x="126.84" y="40.23" width="1.10" height="1.10" fill="#858585"/>
<rect x="125.81" y="40.88" width="0.90" height="0.90" fill="#858585"/>
<rect x="131.46" y="43.11" width="1.10" height="1.10" fill="#858585"/>
<rect x="124.40" y="39.48" width="1.30" height="1.30" fill="#858585"/>
<rect x="123.80" y="40.15" width="1.10" height="1.10" fill="#858585"/>
<rect x="123.86" y="41.88" width="1.30" height="1.30" fill="#858585"/>
<rect x="122.97" y="41.34" width="0.90" height="0.90" fill="#858585"/>
<rect x="125.58" y="48.08" width="1.10" height="1.10" fill="#858585"/>
<rect x="123.45" y="41.44" width="1.10" height="1.10" fill="#858585"/>
<rect x="131.33" y="45.27" width="1.30" height="1.30" fill="#858585"/>
<rect x="129.95" y="49.17" width="1.10" height="1.10" fill="#858585"/>
<rect x="122.36" y="43.85" width="0.90" height="0.90" fill="#858585"/>
<rect x="124.16" y="39.35" width="0.90" height="0.90" fill="#858585"/>
<rect x="128.27" y="44.65" width="1.10" height="1.10" fill="#858585"/>
<rect x="128.24" y="43.74" width="0.90" height="0.90" fill="#858585"/>
<rect x="123.80" y="45.17" width="0.90" height="0.90" fill="#858585"/>
<rect x="122.36" y="42.13" width="1.10" height="1.10" fill="#858585"/>
<rect x="125.60" y="42.76" width="1.30" height="1.30" fill="#858585"/>
<rect x="123.84" y="40.72" width="0.90" height="0.90" fill="#858585"/>
<rect x="118.45" y="48.03" width="1.30" height="1.30" fill="#858585"/>
<rect x="118.93" y="46.29" width="1.10" height="1.10" fill="#858585"/>
<rect x="113.94" y="52.52" width="1.30" height="1.30" fill="#858585"/>
<rect x="118.55" y="55.75" width="0.90" height="0.90" fill="#858585"/>
<rect x="120.36" y="47.97" width="1.30" height="1.30" fill="#858585"/>
<rect x="126.35" y="58.40" width="0.90" height="0.90" fill="#858585"/>
<rect x="120.62" y="45.94" width="0.90" height="0.90" fill="#858585"/>
<rect x="116.61" y="54.66" width="1.10" height="1.10" fill="#858585"/>
<rect x="117.70" y="50.55" width="1.30" height="1.30" fill="#858585"/>
<rect x="120.61" y="46.00" width="1.10" height="1.10" fill="#858585"/>
<rect x="118.82" y="48.60" width="1.10" height="1.10" fill="#858585"/>
<rect x="119.88" y="46.30" width="0.90" height="0.90" fill="#858585"/>
<rect x="119.51" y="56.66" width="1.10" height="1.10" fill="#858585"/>
<rect x="115.90" y="50.91" width="0.90" height="0.90" fill="#858585"/>
<rect x="123.72" y="49.26" width="0.90" height="0.90" fill="#858585"/>
<rect x="118.84" y="56.41" width="1.30" height="1.30" fill="#858585"/>
<rect x="120.87" y="46.70" width="0.90" height="0.90" fill="#858585"/>
<rect x="115.10" y="53.25" width="0.90" height="0.90" fill="#858585"/>
<rect x="117.48" y="50.92" width="1.10" height="1.10" fill="#858585"/>
<rect x="118.78" y="47.61" width="0.90" height="0.90" fill="#858585"/>
<rect x="116.36" y="50.01" width="0.90" height="0.90" fill="#858585"/>
<rect x="115.72" y="51.03" width="1.10" height="1.10" fill="#858585"/>
<rect x="116.89" y="49.38" width="0.90" height="0.90" fill="#858585"/>
<rect x="119.83" y="47.66" width="0.90" height="0.90" fill="#858585"/>
<rect x="122.30" y="46.23" width="1.10" height="1.10" fill="#858585"/>
<rect x="118.49" y="47.55" width="1.10" height="1.10" fill="#858585"/>
<rect x="121.13" y="46.47" width="1.10" height="1.10" fill="#858585"/>
<rect x="129.13" y="53.05" width="0.90" height="0.90" fill="#858585"/>
<rect x="119.81" y="52.86" width="0.90" height="0.90" fill="#858585"/>
<rect x="120.94" y="52.76" width="0.90" height="0.90" fill="#858585"/>
<rect x="119.13" y="46.97" width="1.10" height="1.10" fill="#858585"/>
<rect x="118.11" y="48.63" width="0.90" height="0.90" fill="#858585"/>
<rect x="114.16" y="52.47" width="1.10" height="1.10" fill="#858585"/>
<rect x="117.91" y="48.23" width="1.30" height="1.30" fill="#858585"/>
<rect x="113.92" y="53.03" width="1.30" height="1.30" fill="#858585"/>
<rect x="124.35" y="47.76" width="1.10" height="1.10" fill="#858585"/>
<rect x="118.26" y="49.88" width="1.30" height="1.30" fill="#858585"/>
<rect x="119.48" y="47.67" width="0.90" height="0.90" fill="#858585"/>
<rect x="114.61" y="52.64" width="1.30" height="1.30" fill="#858585"/>
<rect x="123.72" y="49.60" width="1.30" height="1.30" fill="#858585"/>
<rect x="118.07" y="53.44" width="0.90" height="0.90" fill="#858585"/>
<rect x="120.56" y="53.03" width="1.30" height="1.30" fill="#858585"/>
<rect x="118.82" y="53.48" width="0.90" height="0.90" fill="#858585"/>
<rect x="121.29" y="47.99" width="1.30" height="1.30" fill="#858585"/>
<rect x="109.51" y="58.42" width="1.10" height="1.10" fill="#858585"/>
<rect x="112.14" y="54.67" width="1.30" height="1.30" fill="#858585"/>
<rect x="114.21" y="60.94" width="0.90" height="0.90" fill="#858585"/>
<rect x="110.80" y="57.98" width="1.10" height="1.10" fill="#858585"/>
<rect x="112.34" y="63.89" width="1.10" height="1.10" fill="#858585"/>
<rect x="114.04" y="54.72" width="1.10" height="1.10" fill="#858585"/>
<rect x="115.11" y="56.26" width="0.90" height="0.90" fill="#858585"/>
<rect x="116.41" y="58.12" width="1.10" height="1.10" fill="#858585"/>
<rect x="116.07" y="55.72" width="1.30" height="1.30" fill="#858585"/>
<rect x="109.24" y="57.71" width="1.30" height="1.30" fill="#858585"/>
<rect x="115.26" y="67.69" width="0.90" height="0.90" fill="#858585"/>
<rect x="115.59" y="56.49" width="1.10" height="1.10" fill="#858585"/>
<rect x="112.85" y="63.44" width="1.30" height="1.30" fill="#858585"/>
<rect x="108.29" y="59.10" width="0.90" height="0.90" fill="#858585"/>
<rect x="108.37" y="62.04" width="1.30" height="1.30" fill="#858585"/>
<rect x="117.17" y="56.51" width="0.90" height="0.90" fill="#858585"/>
<rect x="121.54" y="60.22" width="0.90" height="0.90" fill="#858585"/>
<rect x="109.51" y="58.29" width="1.10" height="1.10" fill="#858585"/>
<rect x="115.76" y="58.47" width="0.90" height="0.90" fill="#858585"/>
<rect x="119.57" y="58.50" width="1.30" height="1.30" fill="#858585"/>
<rect x="112.07" y="54.50" width="1.30" height="1.30" fill="#858585"/>
<rect x="110.45" y="59.35" width="0.90" height="0.90" fill="#858585"/>
<rect x="108.74" y="58.81" width="0.90" height="0.90" fill="#858585"/>
<rect x="108.49" y="58.79" width="0.90" height="0.90" fill="#858585"/>
<rect x="112.28" y="58.50" width="1.10" height="1.10" fill="#858585"/>
<rect x="112.94" y="54.05" width="0.90" height="0.90" fill="#858585"/>
<rect x="110.23" y="57.81" width="0.90" height="0.90" fill="#858585"/>
<rect x="114.42" y="55.86" width="1.30" height="1.30" fill="#858585"/>
<rect x="117.79" y="62.29" width="0.90" height="0.90" fill="#858585"/>
<rect x="108.02" y="61.51" width="1.10" height="1.10" fill="#858585"/>
<rect x="111.45" y="59.65" width="0.90" height="0.90" fill="#858585"/>
<rect x="117.49" y="62.02" width="1.10" height="1.10" fill="#858585"/>
<rect x="111.69" y="56.20" width="1.10" height="1.10" fill="#858585"/>
<rect x="112.87" y="62.56" width="1.30" height="1.30" fill="#858585"/>
<rect x="113.67" y="64.50" width="1.10" height="1.10" fill="#858585"/>
<rect x="107.59" y="59.87" width="1.30" height="1.30" fill="#858585"/>
<rect x="115.13" y="56.46" width="1.10" height="1.10" fill="#858585"/>
<rect x="112.98" y="56.05" width="1.30" height="1.30" fill="#858585"/>
<rect x="113.59" y="53.22" width="0.90" height="0.90" fill="#858585"/>
<rect x="114.28" y="54.63" width="1.30" height="1.30" fill="#858585"/>
<rect x="109.33" y="58.84" width="1.10" height="1.10" fill="#858585"/>
<rect x="110.24" y="63.88" width="1.10" height="1.10" fill="#858585"/>
<rect x="106.64" y="68.91" width="0.90" height="0.90" fill="#858585"/>
<rect x="108.69" y="63.36" width="1.10" height="1.10" fill="#858585"/>
<rect x="103.27" y="69.52" width="1.30" height="1.30" fill="#858585"/>
<rect x="109.44" y="70.18" width="1.30" height="1.30" fill="#858585"/>
<rect x="106.10" y="61.97" width="0.90" height="0.90" fill="#858585"/>
<rect x="111.15" y="70.30" width="1.10" height="1.10" fill="#858585"/>
<rect x="106.75" y="62.68" width="0.90" height="0.90" fill="#858585"/>
<rect x="107.87" y="63.71" width="1.30" height="1.30" fill="#858585"/>
<rect x="101.20" y="67.57" width="1.30" height="1.30" fill="#858585"/>
<rect x="103.58" y="65.11" width="0.90" height="0.90" fill="#858585"/>
<rect x="108.61" y="69.10" width="1.10" height="1.10" fill="#858585"/>
<rect x="103.71" y="65.75" width="1.30" height="1.30" fill="#858585"/>
<rect x="107.79" y="63.25" width="1.10" height="1.10" fill="#858585"/>
<rect x="104.79" y="67.06" width="1.30" height="1.30" fill="#858585"/>
<rect x="106.01" y="65.38" width="1.10" height="1.10" fill="#858585"/>
<rect x="105.56" y="65.90" width="1.30" height="1.30" fill="#858585"/>
<rect x="107.69" y="67.91" width="0.90" height="0.90" fill="#858585"/>
<rect x="105.55" y="63.23" width="1.30" height="1.30" fill="#858585"/>
<rect x="111.65" y="72.09" width="1.10" height="1.10" fill="#858585"/>
<rect x="107.38" y="61.98" width="0.90" height="0.90" fill="#858585"/>
<rect x="105.41" y="64.10" width="1.10" height="1.10" fill="#858585"/>
<rect x="115.39" y="72.07" width="1.10" height="1.10" fill="#858585"/>
<rect x="106.10" y="61.44" width="1.30" height="1.30" fill="#858585"/>
<rect x="111.00" y="65.71" width="1.10" height="1.10" fill="#858585"/>
<rect x="104.22" y="67.16" width="1.10" height="1.10" fill="#858585"/>
<rect x="107.78" y="66.48" width="1.30" height="1.30" fill="#858585"/>
<rect x="112.86" y="69.21" width="1.30" height="1.30" fill="#858585"/>
<rect x="102.10" y="68.73" width="1.30" height="1.30" fill="#858585"/>
<rect x="107.02" y="65.82" width="1.30" height="1.30" fill="#858585"/>
<rect x="103.52" y="65.99" width="1.30" height="1.30" fill="#858585"/>
<rect x="110.56" y="65.68" width="1.10" height="1.10" fill="#858585"/>
<rect x="107.21" y="64.96" width="1.30" height="1.30" fill="#858585"/>
<rect x="101.23" y="67.76" width="0.90" height="0.90" fill="#858585"/>
<rect x="109.91" y="64.02" width="1.30" height="1.30" fill="#858585"/>
<rect x="106.92" y="62.87" width="1.30" height="1.30" fill="#858585"/>
<rect x="110.12" y="65.98" width="1.10" height="1.10" fill="#858585"/>
<rect x="103.44" y="69.11" width="1.10" height="1.10" fill="#858585"/>
<rect x="98.52" y="75.77" width="1.10" height="1.10" fill="#858585"/>
<rect x="97.25" y="73.20" width="1.10" height="1.10" fill="#858585"/>
<rect x="99.66" y="73.20" width="1.30" height="1.30" fill="#858585"/>
<rect x="102.31" y="73.34" width="1.10" height="1.10" fill="#858585"/>
<rect x="99.16" y="71.14" width="1.30" height="1.30" fill="#858585"/>
<rect x="99.11" y="70.25" width="1.30" height="1.30" fill="#858585"/>
<rect x="98.96" y="70.92" width="1.10" height="1.10" fill="#858585"/>
<rect x="103.03" y="74.01" width="0.90" height="0.90" fill="#858585"/>
<rect x="95.68" y="74.38" width="1.10" height="1.10" fill="#858585"/>
<rect x="102.91" y="80.18" width="0.90" height="0.90" fill="#858585"/>
<rect x="102.12" y="70.14" width="1.10" height="1.10" fill="#858585"/>
<rect x="100.58" y="71.54" width="1.10" height="1.10" fill="#858585"/>
<rect x="112.62" y="85.06" width="1.30" height="1.30" fill="#858585"/>
<rect x="98.95" y="75.87" width="1.10" height="1.10" fill="#858585"/>
<rect x="99.32" y="71.38" width="1.30" height="1.30" fill="#858585"/>
<rect x="98.12" y="73.47" width="0.90" height="0.90" fill="#858585"/>
<rect x="98.45" y="73.77" width="0.90" height="0.90" fill="#858585"/>
<rect x="99.80" y="72.04" width="1.30" height="1.30" fill="#858585"/>
<rect x="99.34" y="73.31" width="0.90" height="0.90" fill="#858585"/>
<rect x="96.68" y="75.36" width="1.10" height="1.10" fill="#858585"/>
<rect x="101.63" y="77.65" width="1.30" height="1.30" fill="#858585"/>
<rect x="100.31" y="71.77" width="0.90" height="0.90" fill="#858585"/>
<rect x="100.38" y="69.92" width="0.90" height="0.90" fill="#858585"/>
<rect x="97.57" y="74.63" width="0.90" height="0.90" fill="#858585"/>
<rect x="97.63" y="72.80" width="1.10" height="1.10" fill="#858585"/>
<rect x="106.88" y="82.99" width="1.10" height="1.10" fill="#858585"/>
<rect x="98.70" y="73.49" width="1.30" height="1.30" fill="#858585"/>
<rect x="104.57" y="74.13" width="1.10" height="1.10" fill="#858585"/>
<rect x="101.76" y="71.31" width="1.30" height="1.30" fill="#858585"/>
<rect x="101.82" y="70.52" width="1.30" height="1.30" fill="#858585"/>
<rect x="97.01" y="72.03" width="1.10" height="1.10" fill="#858585"/>
<rect x="100.35" y="68.13" width="1.30" height="1.30" fill="#858585"/>
<rect x="91.13" y="78.05" width="1.10" height="1.10" fill="#858585"/>
<rect x="92.89" y="76.53" width="0.90" height="0.90" fill="#858585"/>
<rect x="91.57" y="78.22" width="1.10" height="1.10" fill="#858585"/>
<rect x="91.90" y="79.66" width="1.30" height="1.30" fill="#858585"/>
<rect x="91.04" y="80.22" width="0.90" height="0.90" fill="#858585"/>
<rect x="92.53" y="78.12" width="0.90" height="0.90" fill="#858585"/>
<rect x="95.18" y="75.97" width="1.30" height="1.30" fill="#858585"/>
<rect x="94.49" y="74.88" width="0.90" height="0.90" fill="#858585"/>
<rect x="90.68" y="80.45" width="1.10" height="1.10" fill="#858585"/>
<rect x="93.91" y="79.89" width="0.90" height="0.90" fill="#858585"/>
<rect x="93.01" y="79.42" width="1.30" height="1.30" fill="#858585"/>
<rect x="94.96" y="77.71" width="1.10" height="1.10" fill="#858585"/>
<rect x="93.46" y="75.73" width="1.30" height="1.30" fill="#858585"/>
<rect x="97.74" y="77.95" width="1.30" height="1.30" fill="#858585"/>
<rect x="94.88" y="74.78" width="1.30" height="1.30" fill="#858585"/>
<rect x="92.88" y="76.39" width="1.10" height="1.10" fill="#858585"/>
<rect x="96.33" y="81.90" width="1.10" height="1.10" fill="#858585"/>
<rect x="95.02" y="74.81" width="0.90" height="0.90" fill="#858585"/>
<rect x="98.52" y="78.09" width="0.90" height="0.90" fill="#858585"/>
<rect x="96.49" y="79.10" width="1.10" height="1.10" fill="#858585"/>
<rect x="94.58" y="77.13" width="1.10" height="1.10" fill="#858585"/>
<rect x="89.64" y="79.79" width="1.30" height="1.30" fill="#858585"/>
<rect x="94.60" y="78.10" width="0.90" height="0.90" fill="#858585"/>
<rect x="93.38" y="77.18" width="1.30" height="1.30" fill="#858585"/>
<rect x="94.52" y="79.06" width="0.90" height="0.90" fill="#858585"/>
<rect x="89.12" y="80.65" width="1.10" height="1.10" fill="#858585"/>
<rect x="93.27" y="86.05" width="1.10" height="1.10" fill="#858585"/>
<rect x="87.46" y="83.08" width="1.10" height="1.10" fill="#858585"/>
<rect x="86.60" y="84.06" width="1.10" height="1.10" fill="#858585"/>
<rect x="89.76" y="88.72" width="1.10" height="1.10" fill="#858585"/>
<rect x="84.60" y="85.94" width="0.90" height="0.90" fill="#858585"/>
<rect x="87.77" y="83.28" width="1.10" height="1.10" fill="#858585"/>
<rect x="87.92" y="81.44" width="1.30" height="1.30" fill="#858585"/>
<rect x="91.59" y="82.26" width="0.90" height="0.90" fill="#858585"/>
<rect x="84.91" y="84.66" width="1.10" height="1.10" fill="#858585"/>
<rect x="88.04" y="85.62" width="1.30" height="1.30" fill="#858585"/>
<rect x="89.08" y="85.31" width="0.90" height="0.90" fill="#858585"/>
<rect x="89.00" y="81.48" width="1.30" height="1.30" fill="#858585"/>
<rect x="88.17" y="83.91" width="1.30" height="1.30" fill="#858585"/>
<rect x="92.35" y="85.42" width="1.30" height="1.30" fill="#858585"/>
<rect x="90.87" y="83.91" width="1.30" height="1.30" fill="#858585"/>
<rect x="90.31" y="82.40" width="1.10" height="1.10" fill="#858585"/>
<rect x="86.32" y="84.60" width="1.10" height="1.10" fill="#858585"/>
<rect x="86.64" y="84.11" width="1.30" height="1.30" fill="#858585"/>
<rect x="90.96" y="84.11" width="0.90" height="0.90" fill="#858585"/>
<rect x="85.09" y="84.47" width="1.10" height="1.10" fill="#858585"/>
<rect x="86.63" y="86.76" width="0.90" height="0.90" fill="#858585"/>
<rect x="86.29" y="85.38" width="1.10" height="1.10" fill="#858585"/>
<rect x="91.10" y="81.64" width="1.30" height="1.30" fill="#858585"/>
<rect x="90.97" y="83.66" width="1.10" height="1.10" fill="#858585"/>
<rect x="91.35" y="84.18" width="0.90" height="0.90" fill="#858585"/>
<rect x="86.36" y="84.19" width="1.30" height="1.30" fill="#858585"/>
<rect x="84.73" y="85.18" width="1.30" height="1.30" fill="#858585"/>
<rect x="87.74" y="82.24" width="0.90" height="0.90" fill="#858585"/>
<rect x="84.76" y="85.98" width="1.10" height="1.10" fill="#858585"/>
<rect x="83.66" y="92.48" width="1.30" height="1.30" fill="#858585"/>
<rect x="79.99" y="95.00" width="0.90" height="0.90" fill="#858585"/>
<rect x="77.11" y="92.85" width="1.10" height="1.10" fill="#858585"/>
<rect x="80.03" y="92.44" width="1.10" height="1.10" fill="#858585"/>
<rect x="77.13" y="92.36" width="1.30" height="1.30" fill="#858585"/>
<rect x="78.76" y="91.44" width="1.10" height="1.10" fill="#858585"/>
<rect x="81.99" y="90.17" width="0.90" height="0.90" fill="#858585"/>
<rect x="81.41" y="88.83" width="1.30" height="1.30" fill="#858585"/>
<rect x="79.91" y="93.01" width="0.90" height="0.90" fill="#858585"/>
<rect x="81.58" y="90.44" width="1.10" height="1.10" fill="#858585"/>
<rect x="82.08" y="88.29" width="1.10" height="1.10" fill="#858585"/>
<rect x="79.25" y="92.42" width="1.30" height="1.30" fill="#858585"/>
<rect x="79.03" y="90.92" width="0.90" height="0.90" fill="#858585"/>
<rect x="80.98" y="91.97" width="1.10" height="1.10" fill="#858585"/>
<rect x="78.49" y="94.06" width="1.30" height="1.30" fill="#858585"/>
<rect x="80.60" y="88.76" width="1.30" height="1.30" fill="#858585"/>
<rect x="81.06" y="88.42" width="1.30" height="1.30" fill="#858585"/>
<rect x="79.01" y="90.51" width="0.90" height="0.90" fill="#858585"/>
<rect x="78.53" y="90.97" width="1.10" height="1.10" fill="#858585"/>
<rect x="84.99" y="91.31" width="1.30" height="1.30" fill="#858585"/>
<rect x="77.75" y="93.19" width="1.30" height="1.30" fill="#858585"/>
<rect x="82.27" y="90.98" width="0.90" height="0.90" fill="#858585"/>
<rect x="81.16" y="88.45" width="1.10" height="1.10" fill="#858585"/>
<rect x="80.59" y="89.95" width="1.30" height="1.30" fill="#858585"/>
<rect x="80.63" y="93.78" width="1.30" height="1.30" fill="#858585"/>
<rect x="79.84" y="91.56" width="1.30" height="1.30" fill="#858585"/>
<rect x="79.16" y="91.82" width="1.30" height="1.30" fill="#858585"/>
<rect x="79.56" y="94.11" width="1.10" height="1.10" fill="#858585"/>
<rect x="78.02" y="91.51" width="1.30" height="1.30" fill="#858585"/>
<rect x="72.66" y="99.32" width="0.90" height="0.90" fill="#858585"/>
<rect x="78.19" y="101.25" width="1.30" height="1.30" fill="#858585"/>
<rect x="75.44" y="94.90" width="0.90" height="0.90" fill="#858585"/>
<rect x="76.03" y="94.65" width="0.90" height="0.90" fill="#858585"/>
<rect x="75.75" y="94.78" width="0.90" height="0.90" fill="#858585"/>
<rect x="73.27" y="98.23" width="1.10" height="1.10" fill="#858585"/>
<rect x="75.39" y="94.88" width="1.30" height="1.30" fill="#858585"/>
<rect x="72.48" y="97.55" width="1.30" height="1.30" fill="#858585"/>
<rect x="74.83" y="95.70" width="1.30" height="1.30" fill="#858585"/>
<rect x="76.77" y="95.04" width="1.10" height="1.10" fill="#858585"/>
<rect x="72.83" y="97.13" width="1.10" height="1.10" fill="#858585"/>
<rect x="72.13" y="98.04" width="1.30" height="1.30" fill="#858585"/>
<rect x="81.10" y="99.33" width="1.10" height="1.10" fill="#858585"/>
<rect x="71.61" y="98.39" width="1.10" height="1.10" fill="#858585"/>
<rect x="77.31" y="94.00" width="0.90" height="0.90" fill="#858585"/>
<rect x="76.54" y="93.83" width="0.90" height="0.90" fill="#858585"/>
<rect x="76.29" y="94.21" width="0.90" height="0.90" fill="#858585"/>
<rect x="76.31" y="94.83" width="1.30" height="1.30" fill="#858585"/>
<rect x="74.51" y="95.54" width="0.90" height="0.90" fill="#858585"/>
<rect x="77.06" y="94.16" width="1.10" height="1.10" fill="#858585"/>
<rect x="77.74" y="95.27" width="1.30" height="1.30" fill="#858585"/>
<rect x="73.21" y="96.70" width="1.10" height="1.10" fill="#858585"/>
<rect x="71.65" y="99.94" width="1.30" height="1.30" fill="#858585"/>
<rect x="75.13" y="95.64" width="0.90" height="0.90" fill="#858585"/>
<rect x="73.98" y="98.42" width="1.30" height="1.30" fill="#858585"/>
<rect x="72.92" y="97.50" width="0.90" height="0.90" fill="#858585"/>
<rect x="77.94" y="95.39" width="0.90" height="0.90" fill="#858585"/>
<rect x="69.20" y="105.89" width="1.10" height="1.10" fill="#858585"/>
<rect x="73.33" y="105.73" width="1.30" height="1.30" fill="#858585"/>
<rect x="69.98" y="107.35" width="0.90" height="0.90" fill="#858585"/>
<rect x="71.75" y="101.57" width="1.10" height="1.10" fill="#858585"/>
<rect x="67.28" y="103.75" width="0.90" height="0.90" fill="#858585"/>
<rect x="67.82" y="103.31" width="0.90" height="0.90" fill="#858585"/>
<rect x="69.74" y="102.34" width="1.10" height="1.10" fill="#858585"/>
<rect x="66.65" y="104.11" width="0.90" height="0.90" fill="#858585"/>
<rect x="71.43" y="100.66" width="1.30" height="1.30" fill="#858585"/>
<rect x="79.01" y="116.66" width="1.10" height="1.10" fill="#858585"/>
<rect x="70.10" y="108.05" width="1.10" height="1.10" fill="#858585"/>
<rect x="70.21" y="103.33" width="1.10" height="1.10" fill="#858585"/>
<rect x="68.84" y="103.82" width="0.90" height="0.90" fill="#858585"/>
<rect x="67.24" y="103.16" width="1.10" height="1.10" fill="#858585"/>
<rect x="67.98" y="103.35" width="0.90" height="0.90" fill="#858585"/>
<rect x="67.11" y="104.67" width="0.90" height="0.90" fill="#858585"/>
<rect x="66.81" y="103.11" width="1.30" height="1.30" fill="#858585"/>
<rect x="68.39" y="105.93" width="1.10" height="1.10" fill="#858585"/>
<rect x="69.81" y="100.15" width="0.90" height="0.90" fill="#858585"/>
<rect x="68.64" y="102.76" width="1.10" height="1.10" fill="#858585"/>
<rect x="70.12" y="99.63" width="0.90" height="0.90" fill="#858585"/>
<rect x="66.16" y="104.30" width="1.10" height="1.10" fill="#858585"/>
<rect x="72.76" y="101.56" width="1.30" height="1.30" fill="#858585"/>
<rect x="63.68" y="106.61" width="0.90" height="0.90" fill="#858585"/>
<rect x="63.17" y="108.37" width="1.10" height="1.10" fill="#858585"/>
<rect x="62.75" y="113.10" width="0.90" height="0.90" fill="#858585"/>
<rect x="63.86" y="114.44" width="1.30" height="1.30" fill="#858585"/>
<rect x="67.14" y="107.45" width="1.30" height="1.30" fill="#858585"/>
<rect x="62.64" y="109.38" width="1.10" height="1.10" fill="#858585"/>
<rect x="62.80" y="108.21" width="1.10" height="1.10" fill="#858585"/>
<rect x="63.95" y="108.54" width="1.10" height="1.10" fill="#858585"/>
<rect x="61.27" y="110.06" width="1.30" height="1.30" fill="#858585"/>
<rect x="65.59" y="104.96" width="1.30" height="1.30" fill="#858585"/>
<rect x="62.56" y="110.06" width="0.90" height="0.90" fill="#858585"/>
<rect x="62.12" y="108.57" width="1.30" height="1.30" fill="#858585"/>
<rect x="60.40" y="109.98" width="0.90" height="0.90" fill="#858585"/>
<rect x="62.75" y="108.15" width="0.90" height="0.90" fill="#858585"/>
<rect x="68.59" y="110.94" width="0.90" height="0.90" fill="#858585"/>
<rect x="62.35" y="107.47" width="1.10" height="1.10" fill="#858585"/>
<rect x="61.85" y="108.13" width="1.30" height="1.30" fill="#858585"/>
<rect x="64.84" y="106.81" width="1.30" height="1.30" fill="#858585"/>
<rect x="63.74" y="108.02" width="1.30" height="1.30" fill="#858585"/>
<rect x="65.74" y="106.18" width="1.30" height="1.30" fill="#858585"/>
<rect x="64.55" y="110.30" width="1.30" height="1.30" fill="#858585"/>
<rect x="65.79" y="105.76" width="1.30" height="1.30" fill="#858585"/>
<rect x="63.80" y="109.22" width="0.90" height="0.90" fill="#858585"/>
<rect x="65.90" y="112.62" width="1.30" height="1.30" fill="#858585"/>
<rect x="67.16" y="107.73" width="1.10" height="1.10" fill="#858585"/>
<rect x="57.98" y="117.63" width="0.90" height="0.90" fill="#858585"/>
<rect x="56.33" y="114.09" width="0.90" height="0.90" fill="#858585"/>
<rect x="57.45" y="112.48" width="1.10" height="1.10" fill="#858585"/>
<rect x="58.16" y="111.11" width="0.90" height="0.90" fill="#858585"/>
<rect x="56.46" y="117.55" width="1.10" height="1.10" fill="#858585"/>
<rect x="58.24" y="112.73" width="1.10" height="1.10" fill="#858585"/>
<rect x="52.50" y="112.65" width="0.90" height="0.90" fill="#858585"/>
<rect x="57.10" y="115.94" width="1.10" height="1.10" fill="#858585"/>
<rect x="59.40" y="112.55" width="1.10" height="1.10" fill="#858585"/>
<rect x="54.28" y="114.59" width="0.90" height="0.90" fill="#858585"/>
<rect x="53.19" y="112.44" width="1.10" height="1.10" fill="#858585"/>
<rect x="56.16" y="112.54" width="1.10" height="1.10" fill="#858585"/>
<rect x="53.95" y="111.94" width="1.30" height="1.30" fill="#858585"/>
<rect x="57.20" y="111.45" width="1.10" height="1.10" fill="#858585"/>
<rect x="53.36" y="112.35" width="1.30" height="1.30" fill="#858585"/>
<rect x="58.09" y="111.08" width="1.30" height="1.30" fill="#858585"/>
<rect x="57.51" y="114.31" width="1.30" height="1.30" fill="#858585"/>
<rect x="57.37" y="113.82" width="1.10" height="1.10" fill="#858585"/>
<rect x="60.05" y="112.81" width="0.90" height="0.90" fill="#858585"/>
<rect x="60.54" y="114.90" width="1.30" height="1.30" fill="#858585"/>
<rect x="55.72" y="115.03" width="1.30" height="1.30" fill="#858585"/>
<rect x="53.28" y="113.80" width="1.30" height="1.30" fill="#858585"/>
<rect x="53.84" y="112.57" width="1.10" height="1.10" fill="#858585"/>
<rect x="59.90" y="110.28" width="0.90" height="0.90" fill="#858585"/>
<rect x="56.30" y="112.30" width="0.90" height="0.90" fill="#858585"/>
<rect x="53.32" y="112.19" width="0.90" height="0.90" fill="#858585"/>
<rect x="55.52" y="113.43" width="1.30" height="1.30" fill="#858585"/>
<rect x="50.03" y="114.00" width="0.90" height="0.90" fill="#858585"/>
<rect x="48.53" y="113.89" width="0.90" height="0.90" fill="#858585"/>
<rect x="47.63" y="114.58" width="0.90" height="0.90" fill="#858585"/>
<rect x="50.19" y="114.21" width="1.10" height="1.10" fill="#858585"/>
<rect x="47.52" y="114.48" width="0.90" height="0.90" fill="#858585"/>
<rect x="50.93" y="116.13" width="1.30" height="1.30" fill="#858585"/>
<rect x="49.66" y="114.43" width="1.10" height="1.10" fill="#858585"/>
<rect x="47.31" y="113.45" width="1.10" height="1.10" fill="#858585"/>
<rect x="49.10" y="113.52" width="0.90" height="0.90" fill="#858585"/>
<rect x="50.74" y="116.89" width="1.30" height="1.30" fill="#858585"/>
<rect x="51.78" y="113.03" width="1.30" height="1.30" fill="#858585"/>
<rect x="51.28" y="113.69" width="0.90" height="0.90" fill="#858585"/>
<rect x="49.50" y="113.31" width="1.30" height="1.30" fill="#858585"/>
<rect x="49.13" y="114.46" width="0.90" height="0.90" fill="#858585"/>
<rect x="47.04" y="112.76" width="1.30" height="1.30" fill="#858585"/>
<rect x="47.49" y="112.90" width="0.90" height="0.90" fill="#858585"/>
<rect x="43.25" y="113.87" width="1.30" height="1.30" fill="#858585"/>
<rect x="46.03" y="115.67" width="0.90" height="0.90" fill="#858585"/>
<rect x="43.95" y="112.72" width="1.10" height="1.10" fill="#858585"/>
<rect x="43.53" y="113.34" width="1.30" height="1.30" fill="#858585"/>
<rect x="45.15" y="116.48" width="1.30" height="1.30" fill="#858585"/>
<rect x="45.32" y="112.42" width="1.10" height="1.10" fill="#858585"/>
<rect x="43.19" y="116.21" width="1.10" height="1.10" fill="#858585"/>
<rect x="43.91" y="116.57" width="0.90" height="0.90" fill="#858585"/>
<rect x="42.62" y="112.00" width="0.90" height="0.90" fill="#858585"/>
<rect x="46.23" y="116.70" width="1.10" height="1.10" fill="#858585"/>
<rect x="45.13" y="113.28" width="1.10" height="1.10" fill="#858585"/>
<rect x="42.60" y="113.48" width="0.90" height="0.90" fill="#858585"/>
<rect x="45.66" y="113.12" width="1.30" height="1.30" fill="#858585"/>
<rect x="65.00" y="55.00" width="1.20" height="1.20" fill="#8a8a8a"/>
<rect x="88.00" y="67.00" width="1.20" height="1.20" fill="#8a8a8a"/>
<rect x="104.00" y="53.00" width="1.20" height="1.20" fill="#8a8a8a"/>
<rect x="118.00" y="43.00" width="1.20" height="1.20" fill="#8a8a8a"/>
<rect x="122.00" y="40.00" width="1.20" height="1.20" fill="#8a8a8a"/>
<rect x="100.00" y="97.00" width="1.20" height="1.20" fill="#8a8a8a"/>
<rect x="86.00" y="106.00" width="1.20" height="1.20" fill="#8a8a8a"/>
<rect x="75.00" y="117.00" width="1.20" height="1.20" fill="#8a8a8a"/>
<rect x="96.00" y="108.00" width="1.20" height="1.20" fill="#8a8a8a"/>
<rect x="112.00" y="86.00" width="1.20" height="1.20" fill="#8a8a8a"/>
<rect x="126.00" y="60.00" width="1.20" height="1.20" fill="#8a8a8a"/>
<rect x="57.00" y="78.00" width="1.20" height="1.20" fill="#8a8a8a"/>
<rect x="52.00" y="81.00" width="1.20" height="1.20" fill="#8a8a8a"/>
<rect x="68.00" y="123.00" width="1.20" height="1.20" fill="#8a8a8a"/>
<rect x="80.00" y="118.00" width="1.20" height="1.20" fill="#8a8a8a"/>
<rect x="72.00" y="115.00" width="1.20" height="1.20" fill="#8a8a8a"/>
<rect x="108.00" y="28.00" width="1.20" height="1.20" fill="#8a8a8a"/>
<rect x="61.00" y="65.00" width="1.20" height="1.20" fill="#8a8a8a"/>
<rect x="23.10" y="14.50" width="65.90" height="30.10" fill="#fff" stroke="#333" stroke-width="1"/>
<path d="M31.7,17.1 L35,20.4 L31.7,23.7 L28.4,20.4 Z" fill="#444"/>
<rect x="28.60" y="26.60" width="6.00" height="6.30" fill="#c4c4c4"/>
<path d="M31.8,36.9 L34.9,42.8 L28.7,42.8 Z" fill="#777"/>
<text x="36.20" y="22.70" font-size="6.8" font-weight="bold" fill="#000" textLength="46.80" lengthAdjust="spacingAndGlyphs" stroke="#000" stroke-width="0.22">Myc Repressed</text>
<text x="36.20" y="32.40" font-size="6.8" font-weight="bold" fill="#000" textLength="34.50" lengthAdjust="spacingAndGlyphs" stroke="#000" stroke-width="0.22">Unchanged</text>
<text x="36.20" y="42.00" font-size="6.8" font-weight="bold" fill="#000" textLength="47.50" lengthAdjust="spacingAndGlyphs" stroke="#000" stroke-width="0.22">Myc Stimulated</text>
<text x="24.60" y="150.20" font-size="7.3" font-weight="bold" fill="#000" textLength="116.30" lengthAdjust="spacingAndGlyphs" stroke="#000" stroke-width="0.22">Myc High Expression Levels (log2)</text>
<text x="5.70" y="139.50" font-size="7.3" font-weight="bold" fill="#000" textLength="114.00" lengthAdjust="spacingAndGlyphs" transform="rotate(-90 5.70 139.50)" stroke="#000" stroke-width="0.22">Myc Low Expression Levels (log2)</text>
<line x1="203.80" y1="117.51" x2="319.80" y2="117.51" stroke="#b0b0b0" stroke-width="1"/>
<line x1="203.80" y1="102.92" x2="319.80" y2="102.92" stroke="#b0b0b0" stroke-width="1"/>
<line x1="203.80" y1="88.34" x2="319.80" y2="88.34" stroke="#b0b0b0" stroke-width="1"/>
<line x1="203.80" y1="73.75" x2="319.80" y2="73.75" stroke="#b0b0b0" stroke-width="1"/>
<line x1="203.80" y1="59.16" x2="319.80" y2="59.16" stroke="#b0b0b0" stroke-width="1"/>
<line x1="203.80" y1="44.58" x2="319.80" y2="44.58" stroke="#b0b0b0" stroke-width="1"/>
<line x1="203.80" y1="29.99" x2="319.80" y2="29.99" stroke="#b0b0b0" stroke-width="1"/>
<line x1="203.80" y1="15.40" x2="319.80" y2="15.40" stroke="#555" stroke-width="1"/>
<line x1="319.80" y1="15.40" x2="319.80" y2="132.10" stroke="#888" stroke-width="1"/>
<line x1="203.80" y1="15.40" x2="203.80" y2="132.10" stroke="#666" stroke-width="1"/>
<line x1="203.80" y1="132.10" x2="319.80" y2="132.10" stroke="#777" stroke-width="1.2"/>
<text x="199.60" y="134.50" font-size="7" font-weight="bold" fill="#000" text-anchor="end" stroke="#000" stroke-width="0.22">0</text>
<text x="199.60" y="119.91" font-size="7" font-weight="bold" fill="#000" text-anchor="end" stroke="#000" stroke-width="0.22">10</text>
<text x="199.60" y="105.33" font-size="7" font-weight="bold" fill="#000" text-anchor="end" stroke="#000" stroke-width="0.22">20</text>
<text x="199.60" y="90.74" font-size="7" font-weight="bold" fill="#000" text-anchor="end" stroke="#000" stroke-width="0.22">30</text>
<text x="199.60" y="76.15" font-size="7" font-weight="bold" fill="#000" text-anchor="end" stroke="#000" stroke-width="0.22">40</text>
<text x="199.60" y="61.56" font-size="7" font-weight="bold" fill="#000" text-anchor="end" stroke="#000" stroke-width="0.22">50</text>
<text x="199.60" y="46.98" font-size="7" font-weight="bold" fill="#000" text-anchor="end" stroke="#000" stroke-width="0.22">60</text>
<text x="199.60" y="32.39" font-size="7" font-weight="bold" fill="#000" text-anchor="end" stroke="#000" stroke-width="0.22">70</text>
<text x="199.60" y="17.80" font-size="7" font-weight="bold" fill="#000" text-anchor="end" stroke="#000" stroke-width="0.22">80</text>
<rect x="217.30" y="122.18" width="17.10" height="9.92" fill="url(#gdark)" stroke="#2a2a2a" stroke-width="0.6"/>
<rect x="234.40" y="123.64" width="16.40" height="8.46" fill="url(#glight)" stroke="#6a6a6a" stroke-width="0.6"/>
<line x1="242.60" y1="123.64" x2="242.60" y2="116.05" stroke="#666" stroke-width="0.8"/>
<line x1="241.60" y1="116.05" x2="243.60" y2="116.05" stroke="#666" stroke-width="0.8"/>
<rect x="276.00" y="29.26" width="16.70" height="102.84" fill="url(#gdark)" stroke="#2a2a2a" stroke-width="0.6"/>
<rect x="292.70" y="121.89" width="16.10" height="10.21" fill="url(#glight)" stroke="#6a6a6a" stroke-width="0.6"/>
<line x1="300.80" y1="121.89" x2="300.80" y2="115.62" stroke="#666" stroke-width="0.8"/>
<line x1="299.80" y1="115.62" x2="301.80" y2="115.62" stroke="#666" stroke-width="0.8"/>
<rect x="203.80" y="15.40" width="68.50" height="21.90" fill="#fff" stroke="#555" stroke-width="1"/>
<rect x="209.20" y="19.60" width="2.60" height="2.60" fill="#333"/>
<rect x="209.20" y="30.00" width="2.60" height="2.60" fill="#999"/>
<text x="213.80" y="22.80" font-size="6.6" font-weight="bold" fill="#000" textLength="52.00" lengthAdjust="spacingAndGlyphs" stroke="#000" stroke-width="0.22">Actual Gene Set</text>
<text x="213.80" y="33.20" font-size="6.6" font-weight="bold" fill="#000" textLength="57.00" lengthAdjust="spacingAndGlyphs" stroke="#000" stroke-width="0.22">Random Gene Sets</text>
<text x="208.20" y="144.60" font-size="7.2" font-weight="bold" fill="#000" textLength="52.50" lengthAdjust="spacingAndGlyphs" stroke="#000" stroke-width="0.22">Myc Stimulated</text>
<text x="266.90" y="144.60" font-size="7.2" font-weight="bold" fill="#000" textLength="51.90" lengthAdjust="spacingAndGlyphs" stroke="#000" stroke-width="0.22">Myc Repressed</text>
<text x="173.00" y="131.20" font-size="7.2" font-weight="bold" fill="#000" textLength="106.00" lengthAdjust="spacingAndGlyphs" transform="rotate(-90 173.00 131.20)" stroke="#000" stroke-width="0.22">Enrichment of Predicted miRNA</text>
<text x="181.40" y="106.20" font-size="7.2" font-weight="bold" fill="#000" textLength="56.00" lengthAdjust="spacingAndGlyphs" transform="rotate(-90 181.40 106.20)" stroke="#000" stroke-width="0.22">Seed Sequences</text>
<line x1="375.80" y1="113.90" x2="514.00" y2="113.90" stroke="#b0b0b0" stroke-width="1"/>
<line x1="375.80" y1="99.80" x2="514.00" y2="99.80" stroke="#b0b0b0" stroke-width="1"/>
<line x1="375.80" y1="85.70" x2="514.00" y2="85.70" stroke="#b0b0b0" stroke-width="1"/>
<line x1="375.80" y1="71.60" x2="514.00" y2="71.60" stroke="#b0b0b0" stroke-width="1"/>
<line x1="375.80" y1="57.50" x2="514.00" y2="57.50" stroke="#b0b0b0" stroke-width="1"/>
<line x1="375.80" y1="43.40" x2="514.00" y2="43.40" stroke="#b0b0b0" stroke-width="1"/>
<line x1="375.80" y1="29.30" x2="514.00" y2="29.30" stroke="#b0b0b0" stroke-width="1"/>
<line x1="375.80" y1="15.20" x2="514.00" y2="15.20" stroke="#555" stroke-width="1"/>
<line x1="514.00" y1="15.20" x2="514.00" y2="160.50" stroke="#999" stroke-width="1"/>
<line x1="375.80" y1="15.20" x2="375.80" y2="160.50" stroke="#999" stroke-width="1"/>
<line x1="375.80" y1="128.00" x2="514.00" y2="128.00" stroke="#777" stroke-width="1.2"/>
<line x1="424.00" y1="128.00" x2="424.00" y2="143.70" stroke="#b4b4b4" stroke-width="1"/>
<line x1="469.60" y1="128.00" x2="469.60" y2="143.70" stroke="#b4b4b4" stroke-width="1"/>
<text x="370.20" y="130.40" font-size="7" font-weight="bold" fill="#000" text-anchor="end" stroke="#000" stroke-width="0.22">0</text>
<text x="370.20" y="116.30" font-size="7" font-weight="bold" fill="#000" text-anchor="end" stroke="#000" stroke-width="0.22">10</text>
<text x="370.20" y="102.20" font-size="7" font-weight="bold" fill="#000" text-anchor="end" stroke="#000" stroke-width="0.22">20</text>
<text x="370.20" y="88.10" font-size="7" font-weight="bold" fill="#000" text-anchor="end" stroke="#000" stroke-width="0.22">30</text>
<text x="370.20" y="74.00" font-size="7" font-weight="bold" fill="#000" text-anchor="end" stroke="#000" stroke-width="0.22">40</text>
<text x="370.20" y="59.90" font-size="7" font-weight="bold" fill="#000" text-anchor="end" stroke="#000" stroke-width="0.22">50</text>
<text x="370.20" y="45.80" font-size="7" font-weight="bold" fill="#000" text-anchor="end" stroke="#000" stroke-width="0.22">60</text>
<text x="370.20" y="31.70" font-size="7" font-weight="bold" fill="#000" text-anchor="end" stroke="#000" stroke-width="0.22">70</text>
<text x="370.20" y="17.60" font-size="7" font-weight="bold" fill="#000" text-anchor="end" stroke="#000" stroke-width="0.22">80</text>
<rect x="387.30" y="28.45" width="13.10" height="99.55" fill="url(#gdark)" stroke="#2a2a2a" stroke-width="0.6"/>
<rect x="400.40" y="118.69" width="13.40" height="9.31" fill="url(#glight)" stroke="#6a6a6a" stroke-width="0.6"/>
<line x1="407.00" y1="118.69" x2="407.00" y2="112.35" stroke="#666" stroke-width="0.8"/>
<line x1="406.00" y1="112.35" x2="408.00" y2="112.35" stroke="#666" stroke-width="0.8"/>
<rect x="433.00" y="110.23" width="13.30" height="17.77" fill="url(#gdark)" stroke="#2a2a2a" stroke-width="0.6"/>
<rect x="446.30" y="118.13" width="13.50" height="9.87" fill="url(#glight)" stroke="#6a6a6a" stroke-width="0.6"/>
<line x1="453.00" y1="118.13" x2="453.00" y2="113.19" stroke="#666" stroke-width="0.8"/>
<line x1="452.00" y1="113.19" x2="454.00" y2="113.19" stroke="#666" stroke-width="0.8"/>
<rect x="479.20" y="124.19" width="13.10" height="3.81" fill="url(#gdark)" stroke="#2a2a2a" stroke-width="0.6"/>
<rect x="492.30" y="120.39" width="13.50" height="7.61" fill="url(#glight)" stroke="#6a6a6a" stroke-width="0.6"/>
<line x1="498.80" y1="120.39" x2="498.80" y2="114.75" stroke="#666" stroke-width="0.8"/>
<line x1="497.80" y1="114.75" x2="499.80" y2="114.75" stroke="#666" stroke-width="0.8"/>
<rect x="434.40" y="15.40" width="79.80" height="21.50" fill="#fff" stroke="#555" stroke-width="1"/>
<rect x="441.00" y="19.40" width="3.20" height="3.20" fill="#333"/>
<rect x="441.00" y="29.80" width="3.20" height="3.20" fill="#999"/>
<text x="446.80" y="22.80" font-size="7" font-weight="bold" fill="#000" textLength="53.60" lengthAdjust="spacingAndGlyphs" stroke="#000" stroke-width="0.22">Actual Gene Set</text>
<text x="446.80" y="33.10" font-size="7" font-weight="bold" fill="#000" textLength="63.90" lengthAdjust="spacingAndGlyphs" stroke="#000" stroke-width="0.22">Random Gene Sets</text>
<text x="385.90" y="140.80" font-size="7.3" font-weight="bold" fill="#000" textLength="29.40" lengthAdjust="spacingAndGlyphs">&gt;1.5-fold</text>
<text x="432.00" y="140.80" font-size="7.3" font-weight="bold" fill="#000" textLength="28.90" lengthAdjust="spacingAndGlyphs">&gt;2.5-fold</text>
<text x="480.50" y="140.80" font-size="7.3" font-weight="bold" fill="#000" textLength="23.60" lengthAdjust="spacingAndGlyphs">&gt;5-fold</text>
<text x="420.50" y="158.10" font-size="7.2" font-weight="bold" fill="#000" textLength="51.90" lengthAdjust="spacingAndGlyphs" stroke="#000" stroke-width="0.22">Myc Repressed</text>
<text x="347.60" y="128.30" font-size="7.2" font-weight="bold" fill="#000" textLength="107.00" lengthAdjust="spacingAndGlyphs" transform="rotate(-90 347.60 128.30)" stroke="#000" stroke-width="0.22">Enrichment of Predicted miRNA</text>
<text x="356.10" y="102.20" font-size="7.2" font-weight="bold" fill="#000" textLength="50.00" lengthAdjust="spacingAndGlyphs" transform="rotate(-90 356.10 102.20)" stroke="#000" stroke-width="0.22">Seed Sequences</text>
<line x1="22.60" y1="295.44" x2="226.10" y2="295.44" stroke="#a8a8a8" stroke-width="1"/>
<line x1="22.60" y1="270.98" x2="226.10" y2="270.98" stroke="#a8a8a8" stroke-width="1"/>
<line x1="22.60" y1="246.52" x2="226.10" y2="246.52" stroke="#a8a8a8" stroke-width="1"/>
<line x1="22.60" y1="222.06" x2="226.10" y2="222.06" stroke="#a8a8a8" stroke-width="1"/>
<line x1="22.60" y1="197.60" x2="226.10" y2="197.60" stroke="#555" stroke-width="1"/>
<line x1="226.10" y1="197.60" x2="226.10" y2="319.90" stroke="#888" stroke-width="1"/>
<line x1="22.60" y1="197.60" x2="22.60" y2="319.90" stroke="#777" stroke-width="1"/>
<line x1="22.60" y1="319.90" x2="226.10" y2="319.90" stroke="#666" stroke-width="1.2"/>
<text x="18.40" y="322.20" font-size="7.2" font-weight="bold" fill="#000" text-anchor="end" stroke="#000" stroke-width="0.22">0</text>
<text x="18.40" y="297.74" font-size="7.2" font-weight="bold" fill="#000" text-anchor="end" stroke="#000" stroke-width="0.22">1</text>
<text x="18.40" y="273.28" font-size="7.2" font-weight="bold" fill="#000" text-anchor="end" stroke="#000" stroke-width="0.22">2</text>
<text x="18.40" y="248.82" font-size="7.2" font-weight="bold" fill="#000" text-anchor="end" stroke="#000" stroke-width="0.22">3</text>
<text x="18.40" y="224.36" font-size="7.2" font-weight="bold" fill="#000" text-anchor="end" stroke="#000" stroke-width="0.22">4</text>
<text x="18.40" y="199.90" font-size="7.2" font-weight="bold" fill="#000" text-anchor="end" stroke="#000" stroke-width="0.22">5</text>
<rect x="28.80" y="294.46" width="6.20" height="25.44" fill="url(#gd1)" stroke="#222" stroke-width="0.5"/>
<line x1="31.90" y1="294.46" x2="31.90" y2="289.32" stroke="#666" stroke-width="0.8"/>
<line x1="30.90" y1="289.32" x2="32.90" y2="289.32" stroke="#666" stroke-width="0.8"/>
<rect x="35.00" y="310.12" width="6.20" height="9.78" fill="url(#gd2)" stroke="#222" stroke-width="0.5"/>
<rect x="41.20" y="289.08" width="6.20" height="30.82" fill="url(#gd3)" stroke="#222" stroke-width="0.5"/>
<line x1="44.30" y1="289.08" x2="44.30" y2="284.19" stroke="#666" stroke-width="0.8"/>
<line x1="43.30" y1="284.19" x2="45.30" y2="284.19" stroke="#666" stroke-width="0.8"/>
<rect x="47.40" y="296.66" width="6.20" height="23.24" fill="url(#gd4)" stroke="#222" stroke-width="0.5"/>
<line x1="50.50" y1="296.66" x2="50.50" y2="287.37" stroke="#666" stroke-width="0.8"/>
<line x1="49.50" y1="287.37" x2="51.50" y2="287.37" stroke="#666" stroke-width="0.8"/>
<ellipse cx="38.10" cy="309.52" rx="2.7" ry="2.3" fill="#fff"/>
<text x="38.10" y="311.52" font-size="4.5" font-weight="normal" fill="#555" text-anchor="middle">*</text>
<text x="41.20" y="332.20" font-size="7.2" font-weight="bold" fill="#000" text-anchor="middle" textLength="22.50" lengthAdjust="spacingAndGlyphs" stroke="#000" stroke-width="0.22">miR-17</text>
<rect x="62.60" y="294.46" width="6.20" height="25.44" fill="url(#gd1)" stroke="#222" stroke-width="0.5"/>
<line x1="65.70" y1="294.46" x2="65.70" y2="289.57" stroke="#666" stroke-width="0.8"/>
<line x1="64.70" y1="289.57" x2="66.70" y2="289.57" stroke="#666" stroke-width="0.8"/>
<rect x="68.80" y="312.56" width="6.20" height="7.34" fill="url(#gd2)" stroke="#222" stroke-width="0.5"/>
<rect x="75.00" y="267.31" width="6.20" height="52.59" fill="url(#gd3)" stroke="#222" stroke-width="0.5"/>
<line x1="78.10" y1="267.31" x2="78.10" y2="256.30" stroke="#666" stroke-width="0.8"/>
<line x1="77.10" y1="256.30" x2="79.10" y2="256.30" stroke="#666" stroke-width="0.8"/>
<rect x="81.20" y="268.04" width="6.20" height="51.86" fill="url(#gd4)" stroke="#222" stroke-width="0.5"/>
<line x1="84.30" y1="268.04" x2="84.30" y2="244.07" stroke="#666" stroke-width="0.8"/>
<line x1="83.30" y1="244.07" x2="85.30" y2="244.07" stroke="#666" stroke-width="0.8"/>
<ellipse cx="71.90" cy="311.96" rx="2.7" ry="2.3" fill="#fff"/>
<text x="71.90" y="313.96" font-size="4.5" font-weight="normal" fill="#555" text-anchor="middle">*</text>
<text x="75.00" y="332.20" font-size="7.2" font-weight="bold" fill="#000" text-anchor="middle" textLength="27.00" lengthAdjust="spacingAndGlyphs" stroke="#000" stroke-width="0.22">miR-18a</text>
<rect x="96.40" y="294.46" width="6.20" height="25.44" fill="url(#gd1)" stroke="#222" stroke-width="0.5"/>
<line x1="99.50" y1="294.46" x2="99.50" y2="290.55" stroke="#666" stroke-width="0.8"/>
<line x1="98.50" y1="290.55" x2="100.50" y2="290.55" stroke="#666" stroke-width="0.8"/>
<rect x="102.60" y="305.71" width="6.20" height="14.19" fill="url(#gd2)" stroke="#222" stroke-width="0.5"/>
<rect x="108.80" y="231.84" width="6.20" height="88.06" fill="url(#gd3)" stroke="#222" stroke-width="0.5"/>
<line x1="111.90" y1="231.84" x2="111.90" y2="222.06" stroke="#666" stroke-width="0.8"/>
<line x1="110.90" y1="222.06" x2="112.90" y2="222.06" stroke="#666" stroke-width="0.8"/>
<rect x="115.00" y="240.16" width="6.20" height="79.74" fill="url(#gd4)" stroke="#222" stroke-width="0.5"/>
<line x1="118.10" y1="240.16" x2="118.10" y2="201.27" stroke="#666" stroke-width="0.8"/>
<line x1="117.10" y1="201.27" x2="119.10" y2="201.27" stroke="#666" stroke-width="0.8"/>
<ellipse cx="105.70" cy="305.11" rx="2.7" ry="2.3" fill="#fff"/>
<text x="105.70" y="307.11" font-size="4.5" font-weight="normal" fill="#555" text-anchor="middle">†</text>
<text x="108.80" y="332.20" font-size="7.2" font-weight="bold" fill="#000" text-anchor="middle" textLength="26.30" lengthAdjust="spacingAndGlyphs" stroke="#000" stroke-width="0.22">miR-19a</text>
<rect x="130.20" y="294.46" width="6.20" height="25.44" fill="url(#gd1)" stroke="#222" stroke-width="0.5"/>
<line x1="133.30" y1="294.46" x2="133.30" y2="292.02" stroke="#666" stroke-width="0.8"/>
<line x1="132.30" y1="292.02" x2="134.30" y2="292.02" stroke="#666" stroke-width="0.8"/>
<rect x="136.40" y="308.89" width="6.20" height="11.01" fill="url(#gd2)" stroke="#222" stroke-width="0.5"/>
<rect x="142.60" y="260.46" width="6.20" height="59.44" fill="url(#gd3)" stroke="#222" stroke-width="0.5"/>
<line x1="145.70" y1="260.46" x2="145.70" y2="247.99" stroke="#666" stroke-width="0.8"/>
<line x1="144.70" y1="247.99" x2="146.70" y2="247.99" stroke="#666" stroke-width="0.8"/>
<rect x="148.80" y="261.20" width="6.20" height="58.70" fill="url(#gd4)" stroke="#222" stroke-width="0.5"/>
<line x1="151.90" y1="261.20" x2="151.90" y2="239.67" stroke="#666" stroke-width="0.8"/>
<line x1="150.90" y1="239.67" x2="152.90" y2="239.67" stroke="#666" stroke-width="0.8"/>
<ellipse cx="139.50" cy="308.29" rx="2.7" ry="2.3" fill="#fff"/>
<text x="139.50" y="310.29" font-size="4.5" font-weight="normal" fill="#555" text-anchor="middle">†</text>
<text x="142.60" y="332.20" font-size="7.2" font-weight="bold" fill="#000" text-anchor="middle" textLength="27.50" lengthAdjust="spacingAndGlyphs" stroke="#000" stroke-width="0.22">miR-19b</text>
<rect x="164.00" y="294.46" width="6.20" height="25.44" fill="url(#gd1)" stroke="#222" stroke-width="0.5"/>
<line x1="167.10" y1="294.46" x2="167.10" y2="285.17" stroke="#666" stroke-width="0.8"/>
<line x1="166.10" y1="285.17" x2="168.10" y2="285.17" stroke="#666" stroke-width="0.8"/>
<rect x="170.20" y="309.63" width="6.20" height="10.27" fill="url(#gd2)" stroke="#222" stroke-width="0.5"/>
<rect x="176.40" y="279.54" width="6.20" height="40.36" fill="url(#gd3)" stroke="#222" stroke-width="0.5"/>
<line x1="179.50" y1="279.54" x2="179.50" y2="272.45" stroke="#666" stroke-width="0.8"/>
<line x1="178.50" y1="272.45" x2="180.50" y2="272.45" stroke="#666" stroke-width="0.8"/>
<rect x="182.60" y="284.92" width="6.20" height="34.98" fill="url(#gd4)" stroke="#222" stroke-width="0.5"/>
<line x1="185.70" y1="284.92" x2="185.70" y2="266.82" stroke="#666" stroke-width="0.8"/>
<line x1="184.70" y1="266.82" x2="186.70" y2="266.82" stroke="#666" stroke-width="0.8"/>
<ellipse cx="173.30" cy="309.03" rx="2.7" ry="2.3" fill="#fff"/>
<text x="173.30" y="311.03" font-size="4.5" font-weight="normal" fill="#555" text-anchor="middle">†</text>
<text x="176.40" y="332.20" font-size="7.2" font-weight="bold" fill="#000" text-anchor="middle" textLength="26.50" lengthAdjust="spacingAndGlyphs" stroke="#000" stroke-width="0.22">miR-20a</text>
<rect x="197.80" y="294.46" width="6.20" height="25.44" fill="url(#gd1)" stroke="#222" stroke-width="0.5"/>
<line x1="200.90" y1="294.46" x2="200.90" y2="290.55" stroke="#666" stroke-width="0.8"/>
<line x1="199.90" y1="290.55" x2="201.90" y2="290.55" stroke="#666" stroke-width="0.8"/>
<rect x="204.00" y="310.12" width="6.20" height="9.78" fill="url(#gd2)" stroke="#222" stroke-width="0.5"/>
<rect x="210.20" y="271.47" width="6.20" height="48.43" fill="url(#gd3)" stroke="#222" stroke-width="0.5"/>
<line x1="213.30" y1="271.47" x2="213.30" y2="258.26" stroke="#666" stroke-width="0.8"/>
<line x1="212.30" y1="258.26" x2="214.30" y2="258.26" stroke="#666" stroke-width="0.8"/>
<rect x="216.40" y="259.24" width="6.20" height="60.66" fill="url(#gd4)" stroke="#222" stroke-width="0.5"/>
<line x1="219.50" y1="259.24" x2="219.50" y2="245.30" stroke="#666" stroke-width="0.8"/>
<line x1="218.50" y1="245.30" x2="220.50" y2="245.30" stroke="#666" stroke-width="0.8"/>
<ellipse cx="207.10" cy="309.52" rx="2.7" ry="2.3" fill="#fff"/>
<text x="207.10" y="311.52" font-size="4.5" font-weight="normal" fill="#555" text-anchor="middle">*</text>
<text x="210.20" y="332.20" font-size="7.2" font-weight="bold" fill="#000" text-anchor="middle" textLength="27.00" lengthAdjust="spacingAndGlyphs" stroke="#000" stroke-width="0.22">miR-92a</text>
<rect x="121.80" y="197.50" width="104.30" height="31.90" fill="#fff" stroke="#555" stroke-width="1"/>
<rect x="126.40" y="200.00" width="3.00" height="3.00" fill="#3a3a3a" stroke="#222" stroke-width="0.4"/>
<text x="131.60" y="203.60" font-size="6.9" font-weight="bold" fill="#000" textLength="75.60" lengthAdjust="spacingAndGlyphs" stroke="#000" stroke-width="0.1">CTRL mimic MYC high</text>
<rect x="126.40" y="208.13" width="3.00" height="3.00" fill="#a8a8a8" stroke="#222" stroke-width="0.4"/>
<text x="131.60" y="211.73" font-size="6.9" font-weight="bold" fill="#000" textLength="73.00" lengthAdjust="spacingAndGlyphs" stroke="#000" stroke-width="0.1">CTRL mimic MYC low</text>
<rect x="126.40" y="216.26" width="3.00" height="3.00" fill="#6a6a6a" stroke="#222" stroke-width="0.4"/>
<text x="131.60" y="219.86" font-size="6.9" font-weight="bold" fill="#000" textLength="92.50" lengthAdjust="spacingAndGlyphs" stroke="#000" stroke-width="0.1">miR-17~92 mimic MYC high</text>
<rect x="126.40" y="224.39" width="3.00" height="3.00" fill="#2e2e2e" stroke="#222" stroke-width="0.4"/>
<text x="131.60" y="227.99" font-size="6.9" font-weight="bold" fill="#000" textLength="89.50" lengthAdjust="spacingAndGlyphs" stroke="#000" stroke-width="0.1">miR-17~92 mimic MYC low</text>
<text x="8.80" y="317.60" font-size="7.6" font-weight="bold" fill="#000" textLength="110.00" lengthAdjust="spacingAndGlyphs" transform="rotate(-90 8.80 317.60)" stroke="#000" stroke-width="0.22">miRNA Levels Fold Change</text>
<rect x="20.50" y="368.00" width="175.70" height="175.00" fill="#e2e2e2" stroke="#8c8c8c" stroke-width="1"/>
<text x="106.50" y="374.60" font-size="6.3" font-weight="bold" fill="#000" text-anchor="middle" textLength="49.50" lengthAdjust="spacingAndGlyphs" stroke="#000" stroke-width="0.22">Enrichment plot:</text>
<text x="22.60" y="382.60" font-size="6.3" font-weight="bold" fill="#000" textLength="170.50" lengthAdjust="spacingAndGlyphs" stroke="#000" stroke-width="0.22">HSA04662_B_CELL_RECEPTOR_SIGNALING_PATHWAY</text>
<rect x="39.20" y="386.60" width="153.60" height="62.00" fill="#fff" stroke="#999" stroke-width="0.6"/>
<line x1="67.50" y1="386.60" x2="67.50" y2="448.60" stroke="#ebebeb" stroke-width="0.6"/>
<line x1="96.50" y1="386.60" x2="96.50" y2="448.60" stroke="#ebebeb" stroke-width="0.6"/>
<line x1="126.00" y1="386.60" x2="126.00" y2="448.60" stroke="#ebebeb" stroke-width="0.6"/>
<line x1="155.50" y1="386.60" x2="155.50" y2="448.60" stroke="#ebebeb" stroke-width="0.6"/>
<line x1="39.20" y1="437.37" x2="192.80" y2="437.37" stroke="#f2f2f2" stroke-width="0.6"/>
<line x1="39.20" y1="427.74" x2="192.80" y2="427.74" stroke="#f2f2f2" stroke-width="0.6"/>
<line x1="39.20" y1="418.11" x2="192.80" y2="418.11" stroke="#f2f2f2" stroke-width="0.6"/>
<line x1="39.20" y1="408.48" x2="192.80" y2="408.48" stroke="#f2f2f2" stroke-width="0.6"/>
<line x1="39.20" y1="398.85" x2="192.80" y2="398.85" stroke="#f2f2f2" stroke-width="0.6"/>
<line x1="39.20" y1="389.22" x2="192.80" y2="389.22" stroke="#f2f2f2" stroke-width="0.6"/>
<text x="36.60" y="448.40" font-size="4.0" font-weight="bold" fill="#222" text-anchor="end">0.0</text>
<text x="36.60" y="438.77" font-size="4.0" font-weight="bold" fill="#222" text-anchor="end">0.1</text>
<text x="36.60" y="429.14" font-size="4.0" font-weight="bold" fill="#222" text-anchor="end">0.2</text>
<text x="36.60" y="419.51" font-size="4.0" font-weight="bold" fill="#222" text-anchor="end">0.3</text>
<text x="36.60" y="409.88" font-size="4.0" font-weight="bold" fill="#222" text-anchor="end">0.4</text>
<text x="36.60" y="400.25" font-size="4.0" font-weight="bold" fill="#222" text-anchor="end">0.5</text>
<text x="36.60" y="390.62" font-size="4.0" font-weight="bold" fill="#222" text-anchor="end">0.6</text>
<path d="M39.4,447.0 L40.5,444.5 L42.2,432.0 L44.0,421.3 L45.5,414.5 L47.0,412.2 L48.5,412.6 L50.0,413.2 L51.5,407.0 L53.0,403.0 L54.5,399.5 L56.0,397.0 L57.5,395.0 L59.0,393.5 L62.2,393.3 L63.5,392.2 L65.2,391.0 L66.7,389.2 L68.2,390.8 L71.2,390.2 L75.8,390.8 L83.3,393.8 L90.9,397.0 L98.4,401.4 L106.0,406.1 L113.5,410.6 L121.0,415.2 L128.6,419.7 L136.0,424.2 L143.7,428.7 L151.0,432.6 L158.8,436.4 L161.9,437.9 L163.4,434.9 L166.4,436.4 L167.9,435.0 L170.9,436.6 L177.0,441.0 L183.0,445.4 L184.6,447.0" fill="none" stroke="#a4a4a4" stroke-width="1.3" stroke-linejoin="round"/>
<text x="28.60" y="417.50" font-size="4.0" font-weight="bold" fill="#333" text-anchor="middle" textLength="44.00" lengthAdjust="spacingAndGlyphs" transform="rotate(-90 28.60 417.50)">Enrichment score (ES)</text>
<rect x="39.20" y="450.40" width="153.60" height="21.30" fill="#fff" stroke="#999" stroke-width="0.5"/>
<rect x="39.80" y="451.00" width="1.00" height="20.60" fill="#777"/>
<rect x="42.20" y="451.00" width="4.60" height="20.60" fill="#5a5a5a"/>
<rect x="44.00" y="451.00" width="0.80" height="20.60" fill="#333"/>
<rect x="50.20" y="451.00" width="8.80" height="20.60" fill="#606060"/>
<rect x="52.50" y="451.00" width="0.80" height="20.60" fill="#333"/>
<rect x="55.50" y="451.00" width="0.70" height="20.60" fill="#444"/>
<rect x="59.00" y="451.00" width="1.50" height="20.60" fill="#888"/>
<rect x="61.40" y="451.00" width="3.10" height="20.60" fill="#555"/>
<rect x="62.50" y="451.00" width="0.70" height="20.60" fill="#222"/>
<rect x="70.20" y="451.00" width="6.10" height="20.60" fill="#8a8a8a"/>
<rect x="72.50" y="451.00" width="0.80" height="20.60" fill="#666"/>
<rect x="79.20" y="451.00" width="0.80" height="20.60" fill="#777"/>
<rect x="85.50" y="451.00" width="5.10" height="20.60" fill="#7a7a7a"/>
<rect x="88.00" y="451.00" width="0.80" height="20.60" fill="#555"/>
<rect x="101.40" y="451.00" width="1.80" height="20.60" fill="#888"/>
<rect x="112.00" y="451.00" width="1.40" height="20.60" fill="#888"/>
<rect x="115.00" y="451.00" width="0.80" height="20.60" fill="#444"/>
<rect x="134.80" y="451.00" width="1.10" height="20.60" fill="#555"/>
<rect x="143.90" y="451.00" width="1.00" height="20.60" fill="#444"/>
<rect x="148.00" y="451.00" width="1.20" height="20.60" fill="#888"/>
<rect x="159.60" y="451.00" width="1.30" height="20.60" fill="#444"/>
<rect x="163.20" y="451.00" width="1.20" height="20.60" fill="#666"/>
<rect x="39.4" y="471.8" width="145.4" height="5.0" fill="url(#gbar)"/>
<rect x="39.20" y="477.00" width="153.60" height="42.00" fill="#fff" stroke="#999" stroke-width="0.5"/>
<line x1="67.50" y1="477.00" x2="67.50" y2="519.00" stroke="#ebebeb" stroke-width="0.6"/>
<line x1="96.50" y1="477.00" x2="96.50" y2="519.00" stroke="#ebebeb" stroke-width="0.6"/>
<line x1="126.00" y1="477.00" x2="126.00" y2="519.00" stroke="#ebebeb" stroke-width="0.6"/>
<line x1="155.50" y1="477.00" x2="155.50" y2="519.00" stroke="#ebebeb" stroke-width="0.6"/>
<path d="M39.4,498.7 L39.4,486.5 C42,488 46,490 52,492 C62,494.5 76,496.5 95,498.7 Z" fill="#c4c4c4"/>
<path d="M100,498.7 L184.6,498.7 L184.6,513.5 C170,506 150,502 130,500 Z" fill="#c4c4c4"/>
<text x="42.90" y="483.30" font-size="5.6" font-weight="bold" fill="#000" textLength="55.20" lengthAdjust="spacingAndGlyphs">MYC Low CTRL mimic</text>
<text x="59.60" y="489.60" font-size="5.6" font-weight="bold" fill="#000" textLength="54.00" lengthAdjust="spacingAndGlyphs">(positively correlated)</text>
<text x="93.00" y="499.40" font-size="3.2" font-weight="bold" fill="#333" textLength="22.00" lengthAdjust="spacingAndGlyphs">Zero cross at 5010</text>
<text x="102.00" y="516.00" font-size="5.6" font-weight="bold" fill="#000" textLength="74.00" lengthAdjust="spacingAndGlyphs">'REST' (negatively correlated)</text>
<text x="30.40" y="498.70" font-size="4.0" font-weight="bold" fill="#333" text-anchor="middle" textLength="63.00" lengthAdjust="spacingAndGlyphs" transform="rotate(-90 30.40 498.70)">Ranked list metric (Signal2Noise)</text>
<text x="36.60" y="483.90" font-size="4.0" font-weight="bold" fill="#222" text-anchor="end">2</text>
<text x="36.60" y="491.90" font-size="4.0" font-weight="bold" fill="#222" text-anchor="end">1</text>
<text x="36.60" y="500.00" font-size="4.0" font-weight="bold" fill="#222" text-anchor="end">0</text>
<text x="36.60" y="507.90" font-size="4.0" font-weight="bold" fill="#222" text-anchor="end">-1</text>
<text x="36.60" y="516.00" font-size="4.0" font-weight="bold" fill="#222" text-anchor="end">-2</text>
<text x="39.40" y="524.60" font-size="4.0" font-weight="bold" fill="#222" text-anchor="middle">0</text>
<text x="66.60" y="524.60" font-size="4.0" font-weight="bold" fill="#222" text-anchor="middle">2,500</text>
<text x="96.20" y="524.60" font-size="4.0" font-weight="bold" fill="#222" text-anchor="middle">5,000</text>
<text x="126.00" y="524.60" font-size="4.0" font-weight="bold" fill="#222" text-anchor="middle">7,500</text>
<text x="155.80" y="524.60" font-size="4.0" font-weight="bold" fill="#222" text-anchor="middle">10,000</text>
<text x="184.60" y="524.60" font-size="4.0" font-weight="bold" fill="#222" text-anchor="middle">12,500</text>
<text x="111.00" y="530.40" font-size="4.3" font-weight="bold" fill="#222" text-anchor="middle" textLength="52.00" lengthAdjust="spacingAndGlyphs">Rank in Ordered Dataset</text>
<rect x="47.90" y="535.20" width="120.00" height="6.60" fill="#fff" stroke="#555" stroke-width="0.6"/>
<text x="51.00" y="540.00" font-size="3.6" font-weight="bold" fill="#333" textLength="112.00" lengthAdjust="spacingAndGlyphs">— Enrichment profile  — Hits      Ranking metric scores</text>
<text x="22.00" y="554.20" font-size="7.3" font-weight="bold" fill="#000" textLength="76.20" lengthAdjust="spacingAndGlyphs" stroke="#000" stroke-width="0.22">Enrichment Score (ES)</text>
<text x="163.20" y="554.20" font-size="7.0" font-weight="bold" fill="#000" textLength="33.50" lengthAdjust="spacingAndGlyphs" stroke="#000" stroke-width="0.22">0.6040442</text>
<text x="22.00" y="562.47" font-size="7.3" font-weight="bold" fill="#000" textLength="121.00" lengthAdjust="spacingAndGlyphs" stroke="#000" stroke-width="0.22">Normalized Enrichment Score (NES)</text>
<text x="163.20" y="562.47" font-size="7.0" font-weight="bold" fill="#000" textLength="33.50" lengthAdjust="spacingAndGlyphs" stroke="#000" stroke-width="0.22">1.5007282</text>
<text x="22.00" y="570.74" font-size="7.3" font-weight="bold" fill="#000" textLength="54.50" lengthAdjust="spacingAndGlyphs" stroke="#000" stroke-width="0.22">Nominal p-value</text>
<text x="163.20" y="570.74" font-size="7.0" font-weight="bold" fill="#000" textLength="11.00" lengthAdjust="spacingAndGlyphs" stroke="#000" stroke-width="0.22">0.0</text>
<text x="22.00" y="579.01" font-size="7.3" font-weight="bold" fill="#000" textLength="42.00" lengthAdjust="spacingAndGlyphs" stroke="#000" stroke-width="0.22">FDR q-value</text>
<text x="163.20" y="579.01" font-size="7.0" font-weight="bold" fill="#000" textLength="33.50" lengthAdjust="spacingAndGlyphs" stroke="#000" stroke-width="0.22">0.0806717</text>
<text x="238.70" y="197.90" font-size="8.4" font-weight="bold" fill="#000" textLength="73.00" lengthAdjust="spacingAndGlyphs" stroke="#000" stroke-width="0.22">sol.-α-IgM μg/mL:</text>
<text x="350.20" y="185.30" font-size="10" font-weight="bold" fill="#000" textLength="47.60" lengthAdjust="spacingAndGlyphs" stroke="#000" stroke-width="0.22">MYC high</text>
<text x="448.00" y="185.30" font-size="10" font-weight="bold" fill="#000" textLength="43.40" lengthAdjust="spacingAndGlyphs" stroke="#000" stroke-width="0.22">MYC low</text>
<line x1="323.10" y1="188.20" x2="413.00" y2="188.20" stroke="#000" stroke-width="1.3"/>
<line x1="423.80" y1="188.20" x2="513.70" y2="188.20" stroke="#000" stroke-width="1.3"/>
<text x="334.30" y="199.70" font-size="9.6" font-weight="normal" fill="#000" text-anchor="middle" stroke="#000" stroke-width="0.35">0</text>
<text x="359.70" y="199.70" font-size="9.6" font-weight="normal" fill="#000" text-anchor="middle" stroke="#000" stroke-width="0.35">2</text>
<text x="385.10" y="199.70" font-size="9.6" font-weight="normal" fill="#000" text-anchor="middle" stroke="#000" stroke-width="0.35">5</text>
<text x="407.30" y="199.70" font-size="9.6" font-weight="normal" fill="#000" text-anchor="middle" stroke="#000" stroke-width="0.35">10</text>
<text x="432.20" y="199.70" font-size="9.6" font-weight="normal" fill="#000" text-anchor="middle" stroke="#000" stroke-width="0.35">0</text>
<text x="458.20" y="199.70" font-size="9.6" font-weight="normal" fill="#000" text-anchor="middle" stroke="#000" stroke-width="0.35">2</text>
<text x="483.00" y="199.70" font-size="9.6" font-weight="normal" fill="#000" text-anchor="middle" stroke="#000" stroke-width="0.35">5</text>
<text x="505.20" y="199.70" font-size="9.6" font-weight="normal" fill="#000" text-anchor="middle" stroke="#000" stroke-width="0.35">10</text>
<rect x="317.20" y="204.30" width="201.10" height="22.20" fill="#d8d8d8"/>
<rect x="317.20" y="204.30" width="201.10" height="22.20" fill="#000" opacity="0.08" filter="url(#noise)"/>
<rect x="322.20" y="210.80" width="18.00" height="3.00" rx="1.50" fill="#0a0a0a" opacity="0.2" filter="url(#blur1)"/>
<rect x="349.50" y="212.00" width="18.00" height="3.40" rx="1.70" fill="#0a0a0a" opacity="0.42" filter="url(#blur1)"/>
<rect x="373.90" y="211.50" width="20.00" height="4.40" rx="2.20" fill="#0a0a0a" opacity="0.95" filter="url(#blur1)"/>
<rect x="397.90" y="210.40" width="21.00" height="6.60" rx="3.00" fill="#0a0a0a" opacity="1.0" filter="url(#blur1)"/>
<rect x="445.70" y="212.50" width="19.00" height="3.20" rx="1.60" fill="#0a0a0a" opacity="0.4" filter="url(#blur1)"/>
<rect x="469.30" y="212.20" width="19.00" height="3.80" rx="1.90" fill="#0a0a0a" opacity="0.85" filter="url(#blur1)"/>
<rect x="493.20" y="212.30" width="20.00" height="3.60" rx="1.80" fill="#0a0a0a" opacity="0.75" filter="url(#blur1)"/>
<rect x="317.70" y="204.80" width="200.10" height="21.20" fill="none" stroke="#5a5a5a" stroke-width="1"/>
<rect x="317.20" y="231.20" width="201.10" height="20.50" fill="#dadada"/>
<rect x="343.50" y="231.20" width="4.00" height="20.50" fill="#f2f2f2" filter="url(#blur2)"/>
<rect x="369.00" y="231.20" width="4.00" height="20.50" fill="#f2f2f2" filter="url(#blur2)"/>
<rect x="394.00" y="231.20" width="4.00" height="20.50" fill="#f2f2f2" filter="url(#blur2)"/>
<rect x="418.00" y="231.20" width="4.00" height="20.50" fill="#f2f2f2" filter="url(#blur2)"/>
<rect x="441.50" y="231.20" width="4.00" height="20.50" fill="#f2f2f2" filter="url(#blur2)"/>
<rect x="465.00" y="231.20" width="4.00" height="20.50" fill="#f2f2f2" filter="url(#blur2)"/>
<rect x="489.00" y="231.20" width="4.00" height="20.50" fill="#f2f2f2" filter="url(#blur2)"/>
<rect x="317.20" y="231.20" width="201.10" height="20.50" fill="#000" opacity="0.08" filter="url(#noise)"/>
<rect x="320.70" y="237.20" width="21.00" height="2.60" rx="1.30" fill="#0a0a0a" opacity="0.95" filter="url(#blur1)"/>
<rect x="347.50" y="237.60" width="22.00" height="4.80" rx="2.40" fill="#0a0a0a" opacity="1.0" filter="url(#blur1)"/>
<rect x="372.90" y="237.60" width="22.00" height="4.80" rx="2.40" fill="#0a0a0a" opacity="1.0" filter="url(#blur1)"/>
<rect x="397.40" y="237.60" width="22.00" height="4.80" rx="2.40" fill="#0a0a0a" opacity="1.0" filter="url(#blur1)"/>
<rect x="420.20" y="239.00" width="22.00" height="4.80" rx="2.40" fill="#0a0a0a" opacity="1.0" filter="url(#blur1)"/>
<rect x="444.20" y="239.10" width="22.00" height="4.80" rx="2.40" fill="#0a0a0a" opacity="1.0" filter="url(#blur1)"/>
<rect x="467.80" y="239.40" width="22.00" height="4.80" rx="2.40" fill="#0a0a0a" opacity="1.0" filter="url(#blur1)"/>
<rect x="492.20" y="239.40" width="22.00" height="4.80" rx="2.40" fill="#0a0a0a" opacity="1.0" filter="url(#blur1)"/>
<rect x="348.50" y="243.50" width="20.00" height="3.00" rx="1.50" fill="#0a0a0a" opacity="0.12" filter="url(#blur1)"/>
<rect x="373.90" y="243.50" width="20.00" height="3.00" rx="1.50" fill="#0a0a0a" opacity="0.12" filter="url(#blur1)"/>
<rect x="398.40" y="243.50" width="20.00" height="3.00" rx="1.50" fill="#0a0a0a" opacity="0.12" filter="url(#blur1)"/>
<rect x="421.20" y="244.50" width="20.00" height="3.00" rx="1.50" fill="#0a0a0a" opacity="0.08" filter="url(#blur1)"/>
<rect x="445.20" y="244.50" width="20.00" height="3.00" rx="1.50" fill="#0a0a0a" opacity="0.08" filter="url(#blur1)"/>
<rect x="468.80" y="244.50" width="20.00" height="3.00" rx="1.50" fill="#0a0a0a" opacity="0.08" filter="url(#blur1)"/>
<rect x="493.20" y="244.50" width="20.00" height="3.00" rx="1.50" fill="#0a0a0a" opacity="0.08" filter="url(#blur1)"/>
<rect x="317.70" y="231.70" width="200.10" height="19.50" fill="none" stroke="#5a5a5a" stroke-width="1"/>
<rect x="317.20" y="257.50" width="201.10" height="21.20" fill="#ececec"/>
<rect x="343.50" y="257.50" width="4.00" height="21.20" fill="#f2f2f2" filter="url(#blur2)"/>
<rect x="369.00" y="257.50" width="4.00" height="21.20" fill="#f2f2f2" filter="url(#blur2)"/>
<rect x="394.00" y="257.50" width="4.00" height="21.20" fill="#f2f2f2" filter="url(#blur2)"/>
<rect x="418.00" y="257.50" width="4.00" height="21.20" fill="#f2f2f2" filter="url(#blur2)"/>
<rect x="441.50" y="257.50" width="4.00" height="21.20" fill="#f2f2f2" filter="url(#blur2)"/>
<rect x="465.00" y="257.50" width="4.00" height="21.20" fill="#f2f2f2" filter="url(#blur2)"/>
<rect x="489.00" y="257.50" width="4.00" height="21.20" fill="#f2f2f2" filter="url(#blur2)"/>
<rect x="317.20" y="257.50" width="201.10" height="21.20" fill="#000" opacity="0.08" filter="url(#noise)"/>
<rect x="323.20" y="261.00" width="18.00" height="15.00" rx="2" fill="url(#gsmear)" opacity="0.06" filter="url(#blur1)"/>
<rect x="349.00" y="260.50" width="19.00" height="15.50" rx="2" fill="url(#gsmear)" opacity="0.14" filter="url(#blur1)"/>
<rect x="373.90" y="260.50" width="20.00" height="15.50" rx="2" fill="url(#gsmear)" opacity="0.18" filter="url(#blur1)"/>
<rect x="398.40" y="260.50" width="20.00" height="15.50" rx="2" fill="url(#gsmear)" opacity="0.22" filter="url(#blur1)"/>
<rect x="422.20" y="261.00" width="18.00" height="15.00" rx="2" fill="url(#gsmear)" opacity="0.06" filter="url(#blur1)"/>
<rect x="445.70" y="261.00" width="19.00" height="15.00" rx="2" fill="url(#gsmear)" opacity="0.14" filter="url(#blur1)"/>
<rect x="469.30" y="261.00" width="19.00" height="15.00" rx="2" fill="url(#gsmear)" opacity="0.16" filter="url(#blur1)"/>
<rect x="493.70" y="261.00" width="19.00" height="15.00" rx="2" fill="url(#gsmear)" opacity="0.16" filter="url(#blur1)"/>
<rect x="323.20" y="265.00" width="18.00" height="3.00" rx="1.50" fill="#0a0a0a" opacity="0.1" filter="url(#blur1)"/>
<rect x="349.00" y="264.30" width="19.00" height="3.00" rx="1.50" fill="#0a0a0a" opacity="0.5" filter="url(#blur1)"/>
<rect x="349.00" y="268.70" width="19.00" height="2.60" rx="1.30" fill="#0a0a0a" opacity="0.3" filter="url(#blur1)"/>
<rect x="373.90" y="264.70" width="20.00" height="3.40" rx="1.70" fill="#0a0a0a" opacity="0.85" filter="url(#blur1)"/>
<rect x="373.90" y="269.10" width="20.00" height="3.00" rx="1.50" fill="#0a0a0a" opacity="0.65" filter="url(#blur1)"/>
<rect x="398.40" y="264.50" width="20.00" height="3.80" rx="1.90" fill="#0a0a0a" opacity="1.0" filter="url(#blur1)"/>
<rect x="398.40" y="269.00" width="20.00" height="3.20" rx="1.60" fill="#0a0a0a" opacity="0.85" filter="url(#blur1)"/>
<rect x="422.20" y="265.50" width="18.00" height="3.00" rx="1.50" fill="#0a0a0a" opacity="0.12" filter="url(#blur1)"/>
<rect x="445.70" y="265.20" width="19.00" height="3.00" rx="1.50" fill="#0a0a0a" opacity="0.45" filter="url(#blur1)"/>
<rect x="445.70" y="269.50" width="19.00" height="2.60" rx="1.30" fill="#0a0a0a" opacity="0.25" filter="url(#blur1)"/>
<rect x="469.30" y="265.10" width="19.00" height="3.20" rx="1.60" fill="#0a0a0a" opacity="0.6" filter="url(#blur1)"/>
<rect x="469.30" y="269.50" width="19.00" height="2.60" rx="1.30" fill="#0a0a0a" opacity="0.35" filter="url(#blur1)"/>
<rect x="493.70" y="265.10" width="19.00" height="3.20" rx="1.60" fill="#0a0a0a" opacity="0.6" filter="url(#blur1)"/>
<rect x="493.70" y="269.50" width="19.00" height="2.60" rx="1.30" fill="#0a0a0a" opacity="0.35" filter="url(#blur1)"/>
<rect x="317.70" y="258.00" width="200.10" height="20.20" fill="none" stroke="#5a5a5a" stroke-width="1"/>
<rect x="317.20" y="284.10" width="201.10" height="21.30" fill="#cacaca"/>
<rect x="317.20" y="284.10" width="201.10" height="21.30" fill="#000" opacity="0.08" filter="url(#noise)"/>
<rect x="321.70" y="294.60" width="22.00" height="2.80" rx="1.40" fill="#0a0a0a" opacity="0.95" filter="url(#blur1)" transform="rotate(1.5 332.70 296.00)"/>
<rect x="347.50" y="294.60" width="22.00" height="3.60" rx="1.80" fill="#0a0a0a" opacity="1.0" filter="url(#blur1)"/>
<rect x="372.90" y="294.80" width="22.00" height="3.60" rx="1.80" fill="#0a0a0a" opacity="1.0" filter="url(#blur1)"/>
<rect x="397.40" y="294.80" width="22.00" height="3.60" rx="1.80" fill="#0a0a0a" opacity="1.0" filter="url(#blur1)"/>
<rect x="420.20" y="295.40" width="22.00" height="3.60" rx="1.80" fill="#0a0a0a" opacity="1.0" filter="url(#blur1)"/>
<rect x="444.20" y="295.40" width="22.00" height="3.60" rx="1.80" fill="#0a0a0a" opacity="1.0" filter="url(#blur1)"/>
<rect x="467.80" y="295.40" width="22.00" height="3.60" rx="1.80" fill="#0a0a0a" opacity="1.0" filter="url(#blur1)"/>
<rect x="492.20" y="295.20" width="22.00" height="3.60" rx="1.80" fill="#0a0a0a" opacity="1.0" filter="url(#blur1)"/>
<rect x="317.70" y="284.60" width="200.10" height="20.30" fill="none" stroke="#5a5a5a" stroke-width="1"/>
<rect x="317.20" y="311.40" width="201.10" height="20.10" fill="#e6e6e6"/>
<rect x="317.20" y="311.40" width="201.10" height="20.10" fill="#000" opacity="0.08" filter="url(#noise)"/>
<rect x="321.20" y="319.20" width="22.00" height="4.60" rx="2.30" fill="#0a0a0a" opacity="1.0" filter="url(#blur1)"/>
<rect x="347.50" y="319.30" width="22.00" height="4.60" rx="2.30" fill="#0a0a0a" opacity="1.0" filter="url(#blur1)"/>
<rect x="372.90" y="319.30" width="22.00" height="4.60" rx="2.30" fill="#0a0a0a" opacity="1.0" filter="url(#blur1)"/>
<rect x="397.40" y="319.30" width="22.00" height="4.60" rx="2.30" fill="#0a0a0a" opacity="1.0" filter="url(#blur1)"/>
<rect x="420.70" y="318.90" width="21.00" height="4.20" rx="2.10" fill="#0a0a0a" opacity="1.0" filter="url(#blur1)"/>
<rect x="444.70" y="319.70" width="21.00" height="4.40" rx="2.20" fill="#0a0a0a" opacity="1.0" filter="url(#blur1)" transform="rotate(2 455.20 321.90)"/>
<rect x="468.30" y="321.30" width="21.00" height="4.40" rx="2.20" fill="#0a0a0a" opacity="1.0" filter="url(#blur1)" transform="rotate(4 478.80 323.50)"/>
<rect x="492.20" y="323.10" width="22.00" height="4.80" rx="2.40" fill="#0a0a0a" opacity="1.0" filter="url(#blur1)" transform="rotate(4 503.20 325.50)"/>
<rect x="317.70" y="311.90" width="200.10" height="19.10" fill="none" stroke="#5a5a5a" stroke-width="1"/>
<text x="297.60" y="218.10" font-size="8.7" font-weight="bold" fill="#000" text-anchor="end" textLength="27.00" lengthAdjust="spacingAndGlyphs" stroke="#000" stroke-width="0.22">P-SYK</text>
<text x="297.60" y="226.40" font-size="8.7" font-weight="bold" fill="#000" text-anchor="end" textLength="36.30" lengthAdjust="spacingAndGlyphs" stroke="#000" stroke-width="0.22">(Tyr-525)</text>
<path d="M301.00,217.20 L308.00,217.20" stroke="#000" stroke-width="1.95"/>
<path d="M312.00,217.20 L306.20,214.50 L307.10,217.20 L306.20,219.90 Z" fill="#000"/>
<text x="297.60" y="245.20" font-size="8.7" font-weight="bold" fill="#000" text-anchor="end" textLength="38.30" lengthAdjust="spacingAndGlyphs" stroke="#000" stroke-width="0.22">total-SYK</text>
<path d="M301.00,242.10 L308.00,242.10" stroke="#000" stroke-width="1.95"/>
<path d="M312.00,242.10 L306.20,239.40 L307.10,242.10 L306.20,244.80 Z" fill="#000"/>
<text x="297.60" y="266.60" font-size="8.7" font-weight="bold" fill="#000" text-anchor="end" textLength="31.50" lengthAdjust="spacingAndGlyphs" stroke="#000" stroke-width="0.22">P-BLNK</text>
<text x="297.60" y="274.90" font-size="8.7" font-weight="bold" fill="#000" text-anchor="end" textLength="31.00" lengthAdjust="spacingAndGlyphs" stroke="#000" stroke-width="0.22">(Tyr-84)</text>
<path d="M301.00,268.50 L308.00,268.50" stroke="#000" stroke-width="1.95"/>
<path d="M312.00,268.50 L306.20,265.80 L307.10,268.50 L306.20,271.20 Z" fill="#000"/>
<text x="297.60" y="300.80" font-size="8.7" font-weight="bold" fill="#000" text-anchor="end" textLength="43.50" lengthAdjust="spacingAndGlyphs" stroke="#000" stroke-width="0.22">total-BLNK</text>
<path d="M301.00,297.70 L308.00,297.70" stroke="#000" stroke-width="1.95"/>
<path d="M312.00,297.70 L306.20,295.00 L307.10,297.70 L306.20,300.40 Z" fill="#000"/>
<text x="297.60" y="325.70" font-size="8.7" font-weight="bold" fill="#000" text-anchor="end" textLength="31.20" lengthAdjust="spacingAndGlyphs" stroke="#000" stroke-width="0.22">GAPDH</text>
<path d="M301.00,322.60 L308.00,322.60" stroke="#000" stroke-width="1.95"/>
<path d="M312.00,322.60 L306.20,319.90 L307.10,322.60 L306.20,325.30 Z" fill="#000"/>
<text x="238.90" y="371.80" font-size="8.4" font-weight="bold" fill="#000" textLength="70.40" lengthAdjust="spacingAndGlyphs" stroke="#000" stroke-width="0.22">sol.-α-IgM (min.):</text>
<text x="342.20" y="356.50" font-size="10" font-weight="bold" fill="#000" textLength="48.20" lengthAdjust="spacingAndGlyphs" stroke="#000" stroke-width="0.22">MYC high</text>
<text x="445.50" y="356.50" font-size="10" font-weight="bold" fill="#000" textLength="43.80" lengthAdjust="spacingAndGlyphs" stroke="#000" stroke-width="0.22">MYC low</text>
<line x1="322.30" y1="358.30" x2="411.50" y2="358.30" stroke="#000" stroke-width="1.3"/>
<line x1="423.10" y1="358.30" x2="513.00" y2="358.30" stroke="#000" stroke-width="1.3"/>
<text x="331.20" y="373.50" font-size="9.6" font-weight="normal" fill="#000" text-anchor="middle" stroke="#000" stroke-width="0.35">0</text>
<text x="353.40" y="373.50" font-size="9.6" font-weight="normal" fill="#000" text-anchor="middle" stroke="#000" stroke-width="0.35">15</text>
<text x="379.80" y="373.50" font-size="9.6" font-weight="normal" fill="#000" text-anchor="middle" stroke="#000" stroke-width="0.35">45</text>
<text x="404.10" y="373.50" font-size="9.6" font-weight="normal" fill="#000" text-anchor="middle" stroke="#000" stroke-width="0.35">90</text>
<text x="432.80" y="373.50" font-size="9.6" font-weight="normal" fill="#000" text-anchor="middle" stroke="#000" stroke-width="0.35">0</text>
<text x="455.50" y="373.50" font-size="9.6" font-weight="normal" fill="#000" text-anchor="middle" stroke="#000" stroke-width="0.35">15</text>
<text x="480.90" y="373.50" font-size="9.6" font-weight="normal" fill="#000" text-anchor="middle" stroke="#000" stroke-width="0.35">45</text>
<text x="506.30" y="373.50" font-size="9.6" font-weight="normal" fill="#000" text-anchor="middle" stroke="#000" stroke-width="0.35">90</text>
<rect x="314.20" y="378.60" width="201.60" height="22.20" fill="#dcdcdc"/>
<rect x="314.20" y="378.60" width="201.60" height="22.20" fill="#000" opacity="0.08" filter="url(#noise)"/>
<rect x="341.10" y="388.10" width="21.00" height="5.40" rx="2.70" fill="#0a0a0a" opacity="1.0" filter="url(#blur1)"/>
<rect x="368.20" y="389.40" width="19.00" height="3.20" rx="1.60" fill="#0a0a0a" opacity="0.42" filter="url(#blur1)"/>
<rect x="393.60" y="389.40" width="19.00" height="3.20" rx="1.60" fill="#0a0a0a" opacity="0.36" filter="url(#blur1)"/>
<rect x="442.10" y="387.10" width="19.00" height="3.80" rx="1.90" fill="#0a0a0a" opacity="1.0" filter="url(#blur1)"/>
<rect x="467.60" y="388.20" width="18.00" height="2.60" rx="1.30" fill="#0a0a0a" opacity="0.1" filter="url(#blur1)"/>
<rect x="492.20" y="388.20" width="18.00" height="2.60" rx="1.30" fill="#0a0a0a" opacity="0.1" filter="url(#blur1)"/>
<rect x="314.70" y="379.10" width="200.60" height="21.20" fill="none" stroke="#5a5a5a" stroke-width="1"/>
<rect x="314.20" y="404.10" width="201.60" height="21.00" fill="#c2c2c2"/>
<rect x="338.00" y="404.10" width="4.00" height="21.00" fill="#dadada" filter="url(#blur2)"/>
<rect x="363.00" y="404.10" width="4.00" height="21.00" fill="#dadada" filter="url(#blur2)"/>
<rect x="388.50" y="404.10" width="4.00" height="21.00" fill="#dadada" filter="url(#blur2)"/>
<rect x="413.50" y="404.10" width="4.00" height="21.00" fill="#dadada" filter="url(#blur2)"/>
<rect x="438.50" y="404.10" width="4.00" height="21.00" fill="#dadada" filter="url(#blur2)"/>
<rect x="462.50" y="404.10" width="4.00" height="21.00" fill="#dadada" filter="url(#blur2)"/>
<rect x="487.00" y="404.10" width="4.00" height="21.00" fill="#dadada" filter="url(#blur2)"/>
<rect x="314.20" y="404.10" width="201.60" height="21.00" fill="#000" opacity="0.08" filter="url(#noise)"/>
<rect x="317.70" y="416.30" width="20.00" height="4.60" rx="2.30" fill="#0a0a0a" opacity="1.0" filter="url(#blur1)"/>
<rect x="342.60" y="415.50" width="20.00" height="3.80" rx="1.90" fill="#0a0a0a" opacity="0.95" filter="url(#blur1)"/>
<rect x="367.70" y="415.60" width="20.00" height="4.40" rx="2.20" fill="#0a0a0a" opacity="1.0" filter="url(#blur1)"/>
<rect x="392.85" y="415.00" width="20.50" height="4.40" rx="2.20" fill="#0a0a0a" opacity="1.0" filter="url(#blur1)"/>
<rect x="418.00" y="414.20" width="21.00" height="4.80" rx="2.40" fill="#0a0a0a" opacity="1.0" filter="url(#blur1)"/>
<rect x="442.60" y="413.90" width="20.00" height="4.80" rx="2.40" fill="#0a0a0a" opacity="1.0" filter="url(#blur1)"/>
<rect x="466.60" y="412.90" width="20.00" height="4.80" rx="2.40" fill="#0a0a0a" opacity="1.0" filter="url(#blur1)" transform="rotate(-2 476.60 415.30)"/>
<rect x="490.70" y="410.90" width="21.00" height="4.80" rx="2.40" fill="#0a0a0a" opacity="1.0" filter="url(#blur1)" transform="rotate(-2 501.20 413.30)"/>
<rect x="314.70" y="404.60" width="200.60" height="20.00" fill="none" stroke="#5a5a5a" stroke-width="1"/>
<rect x="316.30" y="429.60" width="202.00" height="21.20" fill="#f0f0f0"/>
<rect x="316.30" y="429.60" width="202.00" height="21.20" fill="#000" opacity="0.08" filter="url(#noise)"/>
<rect x="344.60" y="431.00" width="18.00" height="18.00" rx="2" fill="url(#gsmear)" opacity="0.15" filter="url(#blur1)"/>
<rect x="444.60" y="432.00" width="18.00" height="17.00" rx="2" fill="url(#gsmear)" opacity="0.1" filter="url(#blur1)"/>
<rect x="344.10" y="435.10" width="19.00" height="2.60" rx="1.30" fill="#0a0a0a" opacity="0.6" filter="url(#blur1)"/>
<rect x="344.10" y="438.50" width="19.00" height="3.00" rx="1.50" fill="#0a0a0a" opacity="1.0" filter="url(#blur1)"/>
<rect x="344.10" y="442.00" width="19.00" height="2.60" rx="1.30" fill="#0a0a0a" opacity="0.9" filter="url(#blur1)"/>
<rect x="368.70" y="438.50" width="18.00" height="3.00" rx="1.50" fill="#0a0a0a" opacity="0.25" filter="url(#blur1)"/>
<rect x="394.10" y="438.30" width="18.00" height="3.00" rx="1.50" fill="#0a0a0a" opacity="0.45" filter="url(#blur1)"/>
<rect x="419.50" y="438.50" width="18.00" height="3.00" rx="1.50" fill="#0a0a0a" opacity="0.15" filter="url(#blur1)"/>
<rect x="444.10" y="437.00" width="19.00" height="3.00" rx="1.50" fill="#0a0a0a" opacity="0.8" filter="url(#blur1)"/>
<rect x="444.10" y="441.00" width="19.00" height="3.00" rx="1.50" fill="#0a0a0a" opacity="0.3" filter="url(#blur1)"/>
<rect x="467.60" y="438.50" width="18.00" height="3.00" rx="1.50" fill="#0a0a0a" opacity="0.12" filter="url(#blur1)"/>
<rect x="492.20" y="438.50" width="18.00" height="3.00" rx="1.50" fill="#0a0a0a" opacity="0.12" filter="url(#blur1)"/>
<rect x="316.80" y="430.10" width="201.00" height="20.20" fill="none" stroke="#5a5a5a" stroke-width="1"/>
<rect x="316.30" y="456.00" width="201.20" height="21.20" fill="#f6f6f6"/>
<rect x="316.30" y="456.00" width="201.20" height="21.20" fill="#000" opacity="0.08" filter="url(#noise)"/>
<rect x="379.70" y="458.00" width="27.40" height="8.00" rx="2" fill="url(#gsmear)" opacity="0.05" filter="url(#blur1)"/>
<rect x="318.45" y="468.70" width="19.50" height="2.20" rx="1.10" fill="#0a0a0a" opacity="0.5" filter="url(#blur1)"/>
<rect x="342.60" y="468.30" width="20.00" height="2.20" rx="1.10" fill="#0a0a0a" opacity="0.7" filter="url(#blur1)"/>
<rect x="367.70" y="467.90" width="20.00" height="2.20" rx="1.10" fill="#0a0a0a" opacity="0.75" filter="url(#blur1)"/>
<rect x="393.10" y="467.60" width="20.00" height="2.40" rx="1.20" fill="#0a0a0a" opacity="0.75" filter="url(#blur1)"/>
<rect x="418.50" y="467.50" width="20.00" height="2.20" rx="1.10" fill="#0a0a0a" opacity="0.75" filter="url(#blur1)"/>
<rect x="442.60" y="467.30" width="20.00" height="2.20" rx="1.10" fill="#0a0a0a" opacity="0.75" filter="url(#blur1)"/>
<rect x="466.60" y="466.90" width="20.00" height="2.20" rx="1.10" fill="#0a0a0a" opacity="0.75" filter="url(#blur1)"/>
<rect x="491.20" y="466.60" width="20.00" height="2.00" rx="1.00" fill="#0a0a0a" opacity="0.6" filter="url(#blur1)" transform="rotate(-2 501.20 467.60)"/>
<rect x="316.80" y="456.50" width="200.20" height="20.20" fill="none" stroke="#5a5a5a" stroke-width="1"/>
<rect x="316.30" y="481.40" width="202.00" height="21.20" fill="#eaeaea"/>
<rect x="316.30" y="481.40" width="202.00" height="21.20" fill="#000" opacity="0.08" filter="url(#noise)"/>
<rect x="322.60" y="489.50" width="20.00" height="4.20" rx="2.10" fill="#0a0a0a" opacity="1.0" filter="url(#blur1)" transform="rotate(-4 332.60 491.60)"/>
<rect x="348.15" y="489.50" width="18.50" height="3.80" rx="1.90" fill="#0a0a0a" opacity="1.0" filter="url(#blur1)" transform="rotate(-2 357.40 491.40)"/>
<rect x="372.25" y="489.00" width="19.50" height="4.40" rx="2.20" fill="#0a0a0a" opacity="1.0" filter="url(#blur1)"/>
<rect x="396.25" y="488.40" width="19.50" height="4.40" rx="2.20" fill="#0a0a0a" opacity="1.0" filter="url(#blur1)"/>
<rect x="420.25" y="488.50" width="19.50" height="4.00" rx="2.00" fill="#0a0a0a" opacity="1.0" filter="url(#blur1)"/>
<rect x="443.85" y="488.80" width="19.50" height="4.00" rx="2.00" fill="#0a0a0a" opacity="1.0" filter="url(#blur1)"/>
<rect x="467.85" y="489.20" width="19.50" height="4.00" rx="2.00" fill="#0a0a0a" opacity="1.0" filter="url(#blur1)" transform="rotate(1 477.60 491.20)"/>
<rect x="492.00" y="490.40" width="20.00" height="4.00" rx="2.00" fill="#0a0a0a" opacity="1.0" filter="url(#blur1)" transform="rotate(4 502.00 492.40)"/>
<rect x="316.80" y="481.90" width="201.00" height="20.20" fill="none" stroke="#5a5a5a" stroke-width="1"/>
<text x="297.60" y="390.10" font-size="8.7" font-weight="bold" fill="#000" text-anchor="end" textLength="27.00" lengthAdjust="spacingAndGlyphs" stroke="#000" stroke-width="0.22">P-SYK</text>
<text x="297.60" y="398.40" font-size="8.7" font-weight="bold" fill="#000" text-anchor="end" textLength="36.50" lengthAdjust="spacingAndGlyphs" stroke="#000" stroke-width="0.22">(Tyr-525)</text>
<path d="M301.00,389.60 L308.00,389.60" stroke="#000" stroke-width="1.95"/>
<path d="M312.00,389.60 L306.20,386.90 L307.10,389.60 L306.20,392.30 Z" fill="#000"/>
<text x="297.60" y="416.70" font-size="8.7" font-weight="bold" fill="#000" text-anchor="end" textLength="38.30" lengthAdjust="spacingAndGlyphs" stroke="#000" stroke-width="0.22">total-SYK</text>
<path d="M301.00,413.60 L308.00,413.60" stroke="#000" stroke-width="1.95"/>
<path d="M312.00,413.60 L306.20,410.90 L307.10,413.60 L306.20,416.30 Z" fill="#000"/>
<text x="297.60" y="437.90" font-size="8.7" font-weight="bold" fill="#000" text-anchor="end" textLength="31.50" lengthAdjust="spacingAndGlyphs" stroke="#000" stroke-width="0.22">P-BLNK</text>
<text x="297.60" y="446.20" font-size="8.7" font-weight="bold" fill="#000" text-anchor="end" textLength="31.00" lengthAdjust="spacingAndGlyphs" stroke="#000" stroke-width="0.22">(Tyr-84)</text>
<path d="M301.00,439.80 L308.00,439.80" stroke="#000" stroke-width="1.95"/>
<path d="M312.00,439.80 L306.20,437.10 L307.10,439.80 L306.20,442.50 Z" fill="#000"/>
<text x="297.60" y="472.50" font-size="8.7" font-weight="bold" fill="#000" text-anchor="end" textLength="43.50" lengthAdjust="spacingAndGlyphs" stroke="#000" stroke-width="0.22">total-BLNK</text>
<path d="M301.00,469.40 L308.00,469.40" stroke="#000" stroke-width="1.95"/>
<path d="M312.00,469.40 L306.20,466.70 L307.10,469.40 L306.20,472.10 Z" fill="#000"/>
<text x="297.60" y="496.10" font-size="8.7" font-weight="bold" fill="#000" text-anchor="end" textLength="31.20" lengthAdjust="spacingAndGlyphs" stroke="#000" stroke-width="0.22">GAPDH</text>
<path d="M301.00,493.00 L308.00,493.00" stroke="#000" stroke-width="1.95"/>
<path d="M312.00,493.00 L306.20,490.30 L307.10,493.00 L306.20,495.70 Z" fill="#000"/>
<text x="349.10" y="526.20" font-size="10" font-weight="bold" fill="#000" textLength="38.10" lengthAdjust="spacingAndGlyphs" stroke="#000" stroke-width="0.22">6 hours</text>
<text x="444.90" y="526.20" font-size="10" font-weight="bold" fill="#000" textLength="43.40" lengthAdjust="spacingAndGlyphs" stroke="#000" stroke-width="0.22">24 hours</text>
<line x1="319.50" y1="529.40" x2="409.40" y2="529.40" stroke="#000" stroke-width="1.3"/>
<line x1="420.20" y1="529.40" x2="509.40" y2="529.40" stroke="#000" stroke-width="1.3"/>
<text x="311.60" y="540.00" font-size="8.4" font-weight="bold" fill="#000" text-anchor="end" textLength="29.60" lengthAdjust="spacingAndGlyphs" stroke="#000" stroke-width="0.22">c-MYC:</text>
<text x="311.60" y="552.70" font-size="8.4" font-weight="bold" fill="#000" text-anchor="end" textLength="47.10" lengthAdjust="spacingAndGlyphs" stroke="#000" stroke-width="0.22">imm-α-IgM:</text>
<text x="313.60" y="565.40" font-size="8.4" font-weight="bold" fill="#000" text-anchor="end" textLength="82.60" lengthAdjust="spacingAndGlyphs" stroke="#000" stroke-width="0.22">imm.-isotype CTRL:</text>
<text x="330.10" y="540.10" font-size="10.2" font-weight="bold" fill="#000" text-anchor="middle" textLength="8.60" lengthAdjust="spacingAndGlyphs">hi</text>
<line x1="325.50" y1="553.70" x2="334.70" y2="553.70" stroke="#000" stroke-width="2.0"/>
<line x1="325.10" y1="566.40" x2="335.10" y2="566.40" stroke="#000" stroke-width="2.0"/>
<line x1="330.10" y1="561.20" x2="330.10" y2="571.60" stroke="#000" stroke-width="2.0"/>
<text x="354.40" y="540.10" font-size="10.2" font-weight="bold" fill="#000" text-anchor="middle" textLength="8.60" lengthAdjust="spacingAndGlyphs">hi</text>
<line x1="349.40" y1="553.70" x2="359.40" y2="553.70" stroke="#000" stroke-width="2.0"/>
<line x1="354.40" y1="548.50" x2="354.40" y2="558.90" stroke="#000" stroke-width="2.0"/>
<line x1="349.80" y1="566.40" x2="359.00" y2="566.40" stroke="#000" stroke-width="2.0"/>
<text x="379.80" y="540.10" font-size="10.2" font-weight="bold" fill="#000" text-anchor="middle" textLength="17.00" lengthAdjust="spacingAndGlyphs">low</text>
<line x1="375.20" y1="553.70" x2="384.40" y2="553.70" stroke="#000" stroke-width="2.0"/>
<line x1="374.80" y1="566.40" x2="384.80" y2="566.40" stroke="#000" stroke-width="2.0"/>
<line x1="379.80" y1="561.20" x2="379.80" y2="571.60" stroke="#000" stroke-width="2.0"/>
<text x="406.30" y="540.10" font-size="10.2" font-weight="bold" fill="#000" text-anchor="middle" textLength="17.00" lengthAdjust="spacingAndGlyphs">low</text>
<line x1="401.30" y1="553.70" x2="411.30" y2="553.70" stroke="#000" stroke-width="2.0"/>
<line x1="406.30" y1="548.50" x2="406.30" y2="558.90" stroke="#000" stroke-width="2.0"/>
<line x1="401.70" y1="566.40" x2="410.90" y2="566.40" stroke="#000" stroke-width="2.0"/>
<text x="429.00" y="540.10" font-size="10.2" font-weight="bold" fill="#000" text-anchor="middle" textLength="8.60" lengthAdjust="spacingAndGlyphs">hi</text>
<line x1="424.40" y1="553.70" x2="433.60" y2="553.70" stroke="#000" stroke-width="2.0"/>
<line x1="424.00" y1="566.40" x2="434.00" y2="566.40" stroke="#000" stroke-width="2.0"/>
<line x1="429.00" y1="561.20" x2="429.00" y2="571.60" stroke="#000" stroke-width="2.0"/>
<text x="453.40" y="540.10" font-size="10.2" font-weight="bold" fill="#000" text-anchor="middle" textLength="8.60" lengthAdjust="spacingAndGlyphs">hi</text>
<line x1="448.40" y1="553.70" x2="458.40" y2="553.70" stroke="#000" stroke-width="2.0"/>
<line x1="453.40" y1="548.50" x2="453.40" y2="558.90" stroke="#000" stroke-width="2.0"/>
<line x1="448.80" y1="566.40" x2="458.00" y2="566.40" stroke="#000" stroke-width="2.0"/>
<text x="477.70" y="540.10" font-size="10.2" font-weight="bold" fill="#000" text-anchor="middle" textLength="17.00" lengthAdjust="spacingAndGlyphs">low</text>
<line x1="473.10" y1="553.70" x2="482.30" y2="553.70" stroke="#000" stroke-width="2.0"/>
<line x1="472.70" y1="566.40" x2="482.70" y2="566.40" stroke="#000" stroke-width="2.0"/>
<line x1="477.70" y1="561.20" x2="477.70" y2="571.60" stroke="#000" stroke-width="2.0"/>
<text x="504.10" y="540.10" font-size="10.2" font-weight="bold" fill="#000" text-anchor="middle" textLength="17.00" lengthAdjust="spacingAndGlyphs">low</text>
<line x1="499.10" y1="553.70" x2="509.10" y2="553.70" stroke="#000" stroke-width="2.0"/>
<line x1="504.10" y1="548.50" x2="504.10" y2="558.90" stroke="#000" stroke-width="2.0"/>
<line x1="499.50" y1="566.40" x2="508.70" y2="566.40" stroke="#000" stroke-width="2.0"/>
<rect x="316.30" y="572.40" width="197.40" height="20.10" fill="#cccccc"/>
<rect x="339.50" y="572.40" width="5.00" height="20.10" fill="#e6e6e6" filter="url(#blur2)"/>
<rect x="390.00" y="572.40" width="5.00" height="20.10" fill="#e6e6e6" filter="url(#blur2)"/>
<rect x="415.00" y="572.40" width="4.00" height="20.10" fill="#e6e6e6" filter="url(#blur2)"/>
<rect x="439.00" y="572.40" width="5.00" height="20.10" fill="#e6e6e6" filter="url(#blur2)"/>
<rect x="463.50" y="572.40" width="5.00" height="20.10" fill="#e6e6e6" filter="url(#blur2)"/>
<rect x="488.50" y="572.40" width="5.00" height="20.10" fill="#e6e6e6" filter="url(#blur2)"/>
<rect x="316.30" y="572.40" width="197.40" height="20.10" fill="#000" opacity="0.25" filter="url(#noise)"/>
<rect x="345.00" y="575.50" width="19.50" height="15.00" rx="2" fill="url(#gsmear)" opacity="0.95" filter="url(#blur1)"/>
<rect x="395.70" y="576.00" width="19.00" height="14.50" rx="2" fill="url(#gsmear)" opacity="0.75" filter="url(#blur1)"/>
<rect x="444.40" y="576.50" width="19.00" height="14.00" rx="2" fill="url(#gsmear)" opacity="0.6" filter="url(#blur1)"/>
<rect x="494.50" y="576.50" width="19.00" height="14.00" rx="2" fill="url(#gsmear)" opacity="0.55" filter="url(#blur1)"/>
<rect x="469.00" y="577.00" width="19.00" height="13.00" rx="2" fill="url(#gsmear)" opacity="0.25" filter="url(#blur1)"/>
<rect x="319.50" y="577.00" width="19.00" height="13.00" rx="2" fill="url(#gsmear)" opacity="0.12" filter="url(#blur1)"/>
<rect x="370.30" y="577.00" width="19.00" height="13.00" rx="2" fill="url(#gsmear)" opacity="0.15" filter="url(#blur1)"/>
<rect x="419.50" y="577.00" width="19.00" height="13.00" rx="2" fill="url(#gsmear)" opacity="0.15" filter="url(#blur1)"/>
<rect x="316.80" y="572.90" width="196.40" height="19.10" fill="none" stroke="#5a5a5a" stroke-width="1"/>
<rect x="316.30" y="597.80" width="200.50" height="19.70" fill="#a4a4a4"/>
<rect x="316.30" y="597.80" width="200.50" height="19.70" fill="#000" opacity="0.08" filter="url(#noise)"/>
<rect x="318.50" y="608.40" width="21.00" height="3.80" rx="1.90" fill="#0a0a0a" opacity="1.0" filter="url(#blur1)"/>
<rect x="344.00" y="608.40" width="21.00" height="3.80" rx="1.90" fill="#0a0a0a" opacity="0.95" filter="url(#blur1)"/>
<rect x="369.30" y="607.70" width="21.00" height="3.80" rx="1.90" fill="#0a0a0a" opacity="1.0" filter="url(#blur1)"/>
<rect x="394.70" y="606.90" width="21.00" height="3.80" rx="1.90" fill="#0a0a0a" opacity="1.0" filter="url(#blur1)"/>
<rect x="418.00" y="608.50" width="22.00" height="4.20" rx="2.10" fill="#0a0a0a" opacity="1.0" filter="url(#blur1)"/>
<rect x="443.40" y="609.10" width="21.00" height="3.80" rx="1.90" fill="#0a0a0a" opacity="0.95" filter="url(#blur1)"/>
<rect x="468.00" y="608.90" width="21.00" height="3.80" rx="1.90" fill="#0a0a0a" opacity="1.0" filter="url(#blur1)"/>
<rect x="493.50" y="609.10" width="21.00" height="3.80" rx="1.90" fill="#0a0a0a" opacity="0.95" filter="url(#blur1)"/>
<rect x="319.00" y="612.30" width="20.00" height="2.60" rx="1.30" fill="#0a0a0a" opacity="0.3" filter="url(#blur1)"/>
<rect x="344.50" y="612.30" width="20.00" height="2.60" rx="1.30" fill="#0a0a0a" opacity="0.3" filter="url(#blur1)"/>
<rect x="419.00" y="612.70" width="20.00" height="2.60" rx="1.30" fill="#0a0a0a" opacity="0.3" filter="url(#blur1)"/>
<rect x="443.90" y="612.70" width="20.00" height="2.60" rx="1.30" fill="#0a0a0a" opacity="0.3" filter="url(#blur1)"/>
<rect x="369.80" y="611.90" width="20.00" height="2.20" rx="1.10" fill="#0a0a0a" opacity="0.15" filter="url(#blur1)"/>
<rect x="395.20" y="611.20" width="20.00" height="2.20" rx="1.10" fill="#0a0a0a" opacity="0.15" filter="url(#blur1)"/>
<rect x="468.50" y="612.90" width="20.00" height="2.20" rx="1.10" fill="#0a0a0a" opacity="0.15" filter="url(#blur1)"/>
<rect x="494.00" y="612.90" width="20.00" height="2.20" rx="1.10" fill="#0a0a0a" opacity="0.15" filter="url(#blur1)"/>
<rect x="316.80" y="598.30" width="199.50" height="18.70" fill="none" stroke="#5a5a5a" stroke-width="1"/>
<rect x="316.30" y="621.30" width="201.60" height="20.10" fill="#f0f0f0"/>
<rect x="316.30" y="621.30" width="201.60" height="20.10" fill="#000" opacity="0.08" filter="url(#noise)"/>
<rect x="319.00" y="634.00" width="22.00" height="4.40" rx="2.20" fill="#0a0a0a" opacity="1.0" filter="url(#blur1)" transform="rotate(-5 330.00 636.20)"/>
<rect x="343.50" y="631.60" width="22.00" height="4.40" rx="2.20" fill="#0a0a0a" opacity="1.0" filter="url(#blur1)" transform="rotate(-3 354.50 633.80)"/>
<rect x="368.80" y="630.50" width="22.00" height="4.40" rx="2.20" fill="#0a0a0a" opacity="1.0" filter="url(#blur1)" transform="rotate(-2 379.80 632.70)"/>
<rect x="394.20" y="629.60" width="22.00" height="4.40" rx="2.20" fill="#0a0a0a" opacity="1.0" filter="url(#blur1)" transform="rotate(-2 405.20 631.80)"/>
<rect x="418.00" y="629.30" width="22.00" height="4.60" rx="2.30" fill="#0a0a0a" opacity="1.0" filter="url(#blur1)"/>
<rect x="442.90" y="629.30" width="22.00" height="4.60" rx="2.30" fill="#0a0a0a" opacity="1.0" filter="url(#blur1)"/>
<rect x="467.50" y="629.30" width="22.00" height="4.60" rx="2.30" fill="#0a0a0a" opacity="1.0" filter="url(#blur1)"/>
<rect x="493.00" y="629.50" width="22.00" height="4.60" rx="2.30" fill="#0a0a0a" opacity="1.0" filter="url(#blur1)"/>
<rect x="316.80" y="621.80" width="200.60" height="19.10" fill="none" stroke="#5a5a5a" stroke-width="1"/>
<text x="297.60" y="582.70" font-size="8.7" font-weight="bold" fill="#000" text-anchor="end" textLength="31.50" lengthAdjust="spacingAndGlyphs" stroke="#000" stroke-width="0.22">P-BLNK</text>
<text x="297.60" y="591.00" font-size="8.7" font-weight="bold" fill="#000" text-anchor="end" textLength="31.00" lengthAdjust="spacingAndGlyphs" stroke="#000" stroke-width="0.22">(Tyr-84)</text>
<path d="M301.00,585.70 L308.00,585.70" stroke="#000" stroke-width="1.95"/>
<path d="M312.00,585.70 L306.20,583.00 L307.10,585.70 L306.20,588.40 Z" fill="#000"/>
<text x="297.60" y="613.60" font-size="8.7" font-weight="bold" fill="#000" text-anchor="end" textLength="43.50" lengthAdjust="spacingAndGlyphs" stroke="#000" stroke-width="0.22">total-BLNK</text>
<path d="M301.00,610.50 L308.00,610.50" stroke="#000" stroke-width="1.95"/>
<path d="M312.00,610.50 L306.20,607.80 L307.10,610.50 L306.20,613.20 Z" fill="#000"/>
<text x="297.60" y="636.20" font-size="8.7" font-weight="bold" fill="#000" text-anchor="end" textLength="20.50" lengthAdjust="spacingAndGlyphs" stroke="#000" stroke-width="0.22">actin</text>
<path d="M301.00,633.10 L308.00,633.10" stroke="#000" stroke-width="1.95"/>
<path d="M312.00,633.10 L306.20,630.40 L307.10,633.10 L306.20,635.80 Z" fill="#000"/>
</svg>
</body></html>
